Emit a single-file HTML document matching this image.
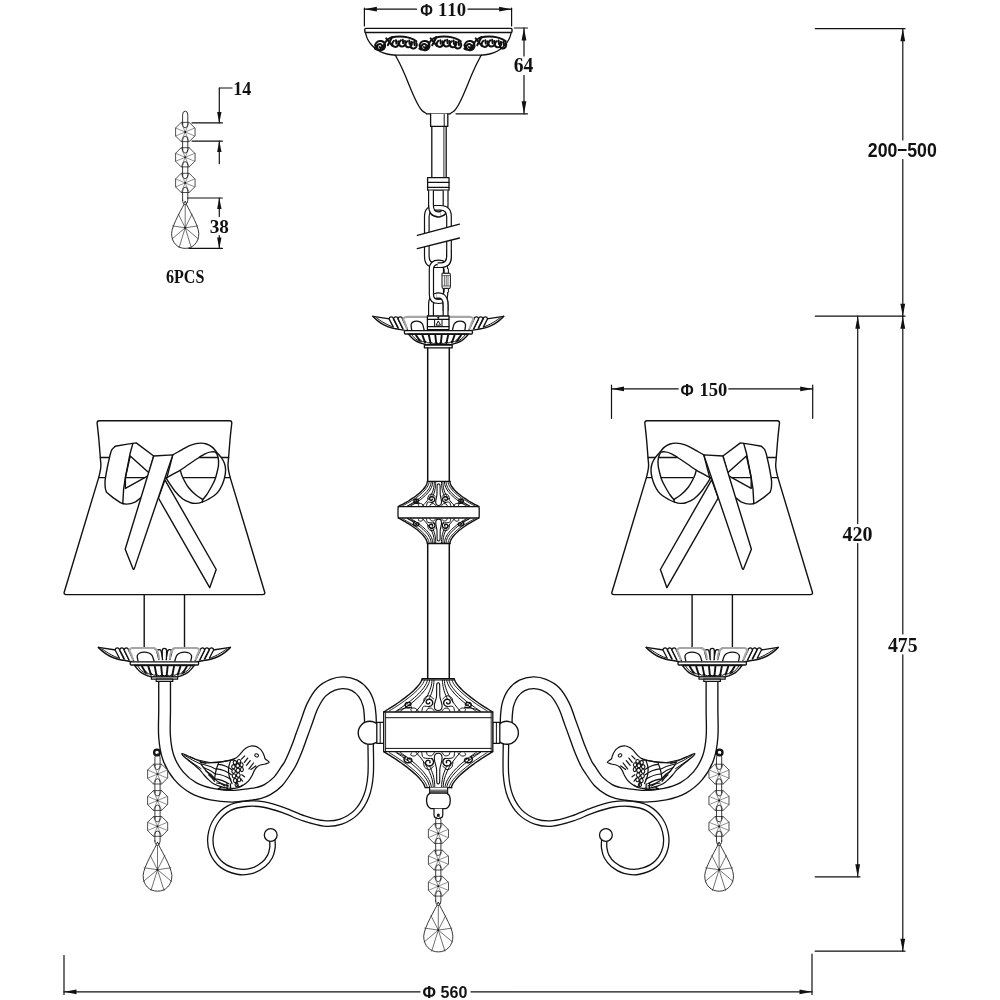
<!DOCTYPE html>
<html lang="en"><head><meta charset="utf-8"><title>Chandelier dimension drawing</title>
<style>
html,body{margin:0;padding:0;background:#fff;}
svg{display:block;will-change:transform;transform:translateZ(0);}
text{font-kerning:none;}
</style></head><body>
<svg width="1000" height="1000" viewBox="0 0 1000 1000" stroke-linecap="round" stroke-linejoin="round">
<rect width="1000" height="1000" fill="#fff"/>
<g id="side">
<path d="M370.6,742C370.6,747.5 371.3,766 370.6,775C369.9,784 368.8,789.8 366.4,796C364,802.2 360.7,807.7 356.5,812C352.3,816.3 346.4,819.7 341,821.6C335.6,823.5 330.2,823.9 324,823.4C317.8,822.9 310.7,820.6 304,818.4C297.3,816.2 290.7,812.7 284,810.4C277.3,808.1 270.3,805.7 264,804.6C257.7,803.5 251.8,803.2 246,803.8C240.2,804.4 233.9,805.5 229,808.2C224.1,810.9 219.5,815.4 216.4,820C213.3,824.6 211.3,830.7 210.6,836C209.9,841.3 210.5,847.2 212.4,852C214.3,856.8 217.8,861.7 222,865C226.2,868.3 232.6,870.6 237.6,871.6C242.6,872.6 247.7,872 252,870.8C256.3,869.6 260.6,866.8 263.6,864.4C266.6,862 268.5,859.1 270,856.4C271.5,853.7 272,850.6 272.4,848C272.8,845.4 272.4,842.2 272.4,841" fill="none" stroke="#111" stroke-width="6.7"/>
<path d="M370.6,742C370.6,747.5 371.3,766 370.6,775C369.9,784 368.8,789.8 366.4,796C364,802.2 360.7,807.7 356.5,812C352.3,816.3 346.4,819.7 341,821.6C335.6,823.5 330.2,823.9 324,823.4C317.8,822.9 310.7,820.6 304,818.4C297.3,816.2 290.7,812.7 284,810.4C277.3,808.1 270.3,805.7 264,804.6C257.7,803.5 251.8,803.2 246,803.8C240.2,804.4 233.9,805.5 229,808.2C224.1,810.9 219.5,815.4 216.4,820C213.3,824.6 211.3,830.7 210.6,836C209.9,841.3 210.5,847.2 212.4,852C214.3,856.8 217.8,861.7 222,865C226.2,868.3 232.6,870.6 237.6,871.6C242.6,872.6 247.7,872 252,870.8C256.3,869.6 260.6,866.8 263.6,864.4C266.6,862 268.5,859.1 270,856.4C271.5,853.7 272,850.6 272.4,848C272.8,845.4 272.4,842.2 272.4,841" fill="none" stroke="#fff" stroke-width="4.1"/>
<circle cx="270.7" cy="835" r="6.4" fill="#fff" stroke="#111" stroke-width="1.3"/>
<path d="M164.6,679C164.6,684.2 164.6,700.3 164.6,710C164.6,719.7 163.9,729 164.6,737C165.2,745 166.2,751.6 168.5,758C170.8,764.4 174.4,770.6 178.6,775.6C182.8,780.6 188.1,784.9 193.6,788C199.1,791.1 205.2,792.8 211.6,794.2C218,795.6 225.6,796.2 232,796.2C238.4,796.2 245.6,794.9 250,794.4C254.4,793.9 255.7,793.8 258.6,793C261.5,792.2 264.2,791.5 267.4,789.6C270.6,787.7 274.9,784.7 278,781.4C281.1,778.1 284.1,773.1 286.2,770C288.3,766.9 288.9,766.5 290.6,763C292.4,759.5 294.8,753.7 296.7,749C298.6,744.3 300.1,739.7 301.8,735C303.5,730.3 305.1,725.9 306.9,721C308.7,716.1 310.2,710.5 312.7,705.6C315.1,700.7 318.2,695.3 321.6,691.8C325,688.3 329.2,686.3 332.8,684.8C336.4,683.3 339.7,682.7 343.3,682.8C346.9,682.9 351.1,683.7 354.5,685.4C357.9,687.1 361,689.9 363.4,693C365.8,696.1 367.5,700.4 368.6,704.2C369.7,708 369.9,712.4 370.2,716C370.5,719.6 370.4,724.3 370.4,726" fill="none" stroke="#111" stroke-width="13.1"/>
<path d="M164.6,679C164.6,684.2 164.6,700.3 164.6,710C164.6,719.7 163.9,729 164.6,737C165.2,745 166.2,751.6 168.5,758C170.8,764.4 174.4,770.6 178.6,775.6C182.8,780.6 188.1,784.9 193.6,788C199.1,791.1 205.2,792.8 211.6,794.2C218,795.6 225.6,796.2 232,796.2C238.4,796.2 245.6,794.9 250,794.4C254.4,793.9 255.7,793.8 258.6,793C261.5,792.2 264.2,791.5 267.4,789.6C270.6,787.7 274.9,784.7 278,781.4C281.1,778.1 284.1,773.1 286.2,770C288.3,766.9 288.9,766.5 290.6,763C292.4,759.5 294.8,753.7 296.7,749C298.6,744.3 300.1,739.7 301.8,735C303.5,730.3 305.1,725.9 306.9,721C308.7,716.1 310.2,710.5 312.7,705.6C315.1,700.7 318.2,695.3 321.6,691.8C325,688.3 329.2,686.3 332.8,684.8C336.4,683.3 339.7,682.7 343.3,682.8C346.9,682.9 351.1,683.7 354.5,685.4C357.9,687.1 361,689.9 363.4,693C365.8,696.1 367.5,700.4 368.6,704.2C369.7,708 369.9,712.4 370.2,716C370.5,719.6 370.4,724.3 370.4,726" fill="none" stroke="#fff" stroke-width="10.4"/>
<circle cx="369.7" cy="732.8" r="11.5" fill="#fff" stroke="#111" stroke-width="1.4"/>
<path d="M376.8,722.4 L383.9,722.4 L383.9,743.4 L376.8,743.4Z" fill="#fff" stroke="#111" stroke-width="1.3"/>
<line x1="380.2" y1="722.4" x2="380.2" y2="743.4" stroke="#111" stroke-width="1"/>
<path d="M144.2,594.8 L144.2,648 M184.5,594.8 L184.5,648" fill="none" stroke="#111" stroke-width="1.4"/>
<path d="M99.2,420.8 L229.7,420.8 Q231.8,420.8 231.8,423 L231.8,423C231.5,425.8 230.5,434.2 230,440C229.5,445.8 228.9,453.3 228.6,457.5C228.3,461.7 228,462.9 228,465.2C228,467.5 228.3,469.1 228.7,471.2C229.1,473.3 229.9,476.5 230.2,477.6 L264.7,592.2 Q265.3,594.6 262.5,594.6 L66.4,594.6 Q63.6,594.6 64.2,592.2 L98.7,477.6 L98.7,477.6C99,476.5 99.8,473.3 100.2,471.2C100.6,469.1 100.9,467.5 100.9,465.2C100.9,462.9 100.6,461.7 100.3,457.5C100,453.3 99.4,445.8 98.9,440C98.4,434.2 97.4,425.8 97.1,423 Q97.1,420.8 99.2,420.8Z" fill="#fff" stroke="#111" stroke-width="1.4"/>
<path d="M100.3,457.5 L228.6,457.5 M98.7,477.6 L230.2,477.6" fill="none" stroke="#111" stroke-width="1.3"/>
<path d="M164.9,479.8L216.2,569.5L209.7,587.7L158.4,498Z" fill="#fff" stroke="#111" stroke-width="1.4"/>
<path d="M172.8,454.9C174.4,454 179.4,451 182.5,449.3C185.6,447.6 188.5,445.8 191.5,444.8C194.5,443.8 198,443.2 200.5,443.1C203,443 204.5,443.3 206.5,444C208.5,444.7 210.8,446 212.5,447.4C214.2,448.8 215.5,450.9 217,452.6C218.5,454.4 220.2,456.1 221.5,457.9C222.8,459.7 223.8,461.4 224.5,463.5C225.2,465.6 225.6,467.9 225.6,470.3C225.6,472.7 225.1,475.4 224.5,477.8C223.9,480.2 223.3,482.2 222.3,484.5C221.3,486.8 219.9,489.4 218.5,491.3C217.1,493.2 215.8,494.4 214,495.8C212.2,497.2 210,498.4 208,499.5C206,500.6 204,501.5 202,502.1C200,502.8 198,503.3 196,503.4C194,503.5 192.2,503.3 190,502.5C187.8,501.7 185,500.7 182.5,498.8C180,496.9 177.1,493.8 175,491.3C172.9,488.8 171.2,485.9 169.8,483.8C168.4,481.7 167.1,479.7 166.6,478.9Z" fill="#fff" stroke="#111" stroke-width="1.4"/>
<path d="M180.3,470.3C181.9,469.2 186.9,465.6 190,463.5C193.1,461.4 196.5,459.1 199,457.5C201.5,455.9 203,454.7 205,453.8C207,452.9 209.2,452.1 211,451.9C212.8,451.6 214.3,451.4 215.5,452.3C216.7,453.2 217.6,455.4 218.1,457.5C218.6,459.6 218.7,462.5 218.5,465C218.3,467.5 217.6,470 217,472.5C216.4,475 215.8,477.5 214.8,480C213.8,482.5 212.4,485 211,487.5C209.6,490 207.9,493 206.5,495C205.1,497 203.4,498.8 202.8,499.5L202.8,499.5C201.7,498.8 198.4,497 196,495C193.6,493 190.8,490.5 188.5,487.5C186.2,484.5 183.9,479.9 182.5,477C181.1,474.1 180.7,471.4 180.3,470.3Z" fill="#fff" stroke="#111" stroke-width="1.4"/>
<path d="M199.4,457.5 L217.6,457.5 M183.6,477.6 L215.6,477.6" fill="none" stroke="#111" stroke-width="1.3"/>
<path d="M165.3,478.5C166.5,477.8 170.1,475.8 172.6,474.4C175.1,473 179,471 180.3,470.3" fill="none" stroke="#111" stroke-width="1.4"/>
<path d="M202.8,499.5 L202.2,502" fill="none" stroke="#111" stroke-width="1.4"/>
<path d="M136.2,442.9L126,444.4L115.2,446.3L115.2,446.3C114.7,446.9 112.7,448.4 111.9,449.6C111.1,450.9 110.8,452.5 110.4,453.8C110,455.1 110,455.3 109.5,457.5C109,459.7 108.1,463.6 107.4,467C106.7,470.4 105.9,475.1 105.5,477.6C105.1,480.1 105,480.3 105,482C105,483.7 105,486.3 105.3,488C105.5,489.7 106.3,491.5 106.5,492.2 L113,497.6 L120.4,502.6 Q126.5,506 135.6,501.9 L142.1,496.7 L148.6,474.8 L153.7,456Z" fill="#fff" stroke="#111" stroke-width="1.4"/>
<path d="M130.2,455.9 L148.9,472.7 L148.4,475.6 L125.4,488.4 L125.4,477.6Z" fill="#fff" stroke="#111" stroke-width="1.4"/>
<path d="M125.6,477.6 L144.6,477.6" fill="none" stroke="#111" stroke-width="1.3"/>
<path d="M132.9,443.4 L130,453.8 L125.4,477.6 L123.6,489.2 L122.8,503.6" fill="none" stroke="#111" stroke-width="1.4"/>
<path d="M153.7,456 L172.8,454.9 L134.3,568.6 Q133.7,570.2 132.9,568.6 L125.2,549.3Z" fill="#fff" stroke="#111" stroke-width="1.4"/>
<path d="M98.4,647.4C99.3,648.2 101.7,650.7 103.6,652.2C105.5,653.7 107.7,655.1 110,656.2C112.3,657.3 114.9,658.3 117.2,659C119.5,659.7 121.2,659.8 123.6,660.2C126,660.6 130.3,661.4 131.6,661.6 L197.2,661.6 L197.2,661.6C198.5,661.4 202.8,660.6 205.2,660.2C207.6,659.8 209.3,659.7 211.6,659C213.9,658.3 216.5,657.3 218.8,656.2C221.1,655.1 223.3,653.7 225.2,652.2C227.1,650.7 229.5,648.2 230.4,647.4Z" fill="#fff" stroke="none" stroke-width="0"/>
<path d="M98.4,647.4C99.3,648.2 101.7,650.7 103.6,652.2C105.5,653.7 107.7,655.1 110,656.2C112.3,657.3 114.9,658.3 117.2,659C119.5,659.7 121.2,659.8 123.6,660.2C126,660.6 130.3,661.4 131.6,661.6" fill="none" stroke="#111" stroke-width="1.5"/>
<path d="M102,648.9C103.1,649.6 106.3,651.9 108.4,653.2C110.5,654.4 112.6,655.6 114.4,656.4C116.2,657.2 118.6,657.9 119.4,658.2" fill="none" stroke="#111" stroke-width="1"/>
<path d="M98.4,647.4 L115.8,650" fill="none" stroke="#111" stroke-width="1.3"/>
<path d="M119.3,658 L115.3,650.2 C114.9,647.2 119.5,647.2 119.5,650 L123.9,658.9" fill="#fff" stroke="#111" stroke-width="1.3"/>
<path d="M124.3,658.8 L119.9,650.2 C119.5,647.2 124.1,647.2 124.1,650 L128.9,659.7" fill="#fff" stroke="#111" stroke-width="1.3"/>
<path d="M129.1,660 L124.3,650.2 C123.9,647.2 128.5,647.2 128.5,650 L133.7,660.9" fill="#fff" stroke="#111" stroke-width="1.3"/>
<path d="M133,659.6C132.7,658.7 131.8,656 131.2,654.4C130.6,652.8 129.5,651.2 129.4,650.2C129.3,649.2 130,649 130.6,648.6C131.2,648.2 132.6,648.1 133,648 L154,648 L154,648C154.5,648.4 156.4,649.5 157.2,650.6C158,651.7 158.3,653.1 158.6,654.4C158.9,655.7 158.9,657.6 159,658.2" fill="none" stroke="#a6a6a6" stroke-width="2.1"/>
<path d="M138,661C137.9,660.1 136.9,657.1 137.2,655.8C137.5,654.5 138.6,653.6 139.8,653C141,652.4 142.9,652.2 144.4,652.2C145.9,652.2 147.5,652.5 148.8,653C150.1,653.5 151.1,654.1 152,655.4C152.9,656.7 153.7,660.1 154,661" fill="none" stroke="#111" stroke-width="1.3"/>
<path d="M230.4,647.4C229.5,648.2 227.1,650.7 225.2,652.2C223.3,653.7 221.1,655.1 218.8,656.2C216.5,657.3 213.9,658.3 211.6,659C209.3,659.7 207.6,659.8 205.2,660.2C202.8,660.6 198.5,661.4 197.2,661.6" fill="none" stroke="#111" stroke-width="1.5"/>
<path d="M226.8,648.9C225.7,649.6 222.5,651.9 220.4,653.2C218.3,654.4 216.2,655.6 214.4,656.4C212.6,657.2 210.2,657.9 209.4,658.2" fill="none" stroke="#111" stroke-width="1"/>
<path d="M230.4,647.4 L213,650" fill="none" stroke="#111" stroke-width="1.3"/>
<path d="M209.5,658 L213.5,650.2 C213.9,647.2 209.3,647.2 209.3,650 L204.9,658.9" fill="#fff" stroke="#111" stroke-width="1.3"/>
<path d="M204.5,658.8 L208.9,650.2 C209.3,647.2 204.7,647.2 204.7,650 L199.9,659.7" fill="#fff" stroke="#111" stroke-width="1.3"/>
<path d="M199.7,660 L204.5,650.2 C204.9,647.2 200.3,647.2 200.3,650 L195.1,660.9" fill="#fff" stroke="#111" stroke-width="1.3"/>
<path d="M195.8,659.6C196.1,658.7 197,656 197.6,654.4C198.2,652.8 199.3,651.2 199.4,650.2C199.5,649.2 198.8,649 198.2,648.6C197.6,648.2 196.2,648.1 195.8,648 L174.8,648 L174.8,648C174.3,648.4 172.4,649.5 171.6,650.6C170.8,651.7 170.5,653.1 170.2,654.4C169.9,655.7 169.9,657.6 169.8,658.2" fill="none" stroke="#a6a6a6" stroke-width="2.1"/>
<path d="M190.8,661C190.9,660.1 191.9,657.1 191.6,655.8C191.3,654.5 190.2,653.6 189,653C187.8,652.4 185.9,652.2 184.4,652.2C182.9,652.2 181.3,652.5 180,653C178.7,653.5 177.7,654.1 176.8,655.4C175.9,656.7 175.1,660.1 174.8,661" fill="none" stroke="#111" stroke-width="1.3"/>
<path d="M158.9,659.6 L157,652.4 C157,648.8 161.4,648.8 161.4,652.4 L162.9,659.6" fill="#fff" stroke="#111" stroke-width="1.3"/>
<path d="M165.9,659.6 L167.4,652.4 C167.4,648.8 171.8,648.8 171.8,652.4 L169.9,659.6" fill="#fff" stroke="#111" stroke-width="1.3"/>
<path d="M162.4,659.6 L162.2,651 C162.2,647.4 166.6,647.4 166.6,651 L166.4,659.6" fill="#fff" stroke="#111" stroke-width="1.3"/>
<path d="M154,648C154.5,648.4 156.1,649.3 156.8,650.4C157.5,651.5 158,653 158.4,654.4C158.8,655.8 158.9,657.9 159,658.6" fill="none" stroke="#a6a6a6" stroke-width="2"/>
<path d="M174.8,648C174.3,648.4 172.7,649.3 172,650.4C171.3,651.5 170.8,653 170.4,654.4C170,655.8 169.9,657.9 169.8,658.6" fill="none" stroke="#a6a6a6" stroke-width="2"/>
<path d="M131.2,661.8 L197.6,661.8 Q198.6,661.8 198.6,662.8 L198.6,664 Q198.6,665 197.6,665 L131.2,665 Q130.2,665 130.2,664 L130.2,662.8 Q130.2,661.8 131.2,661.8Z" fill="#fff" stroke="#111" stroke-width="1.3"/>
<path d="M134.6,665.5C135,666 136.1,667.6 137.2,668.8C138.3,670 139.7,671.6 141.2,672.6C142.7,673.6 144.3,674.4 146,675.1C147.7,675.8 150.7,676.7 151.6,677 L177.2,677 L177.2,677C178.1,676.7 181.1,675.8 182.8,675.1C184.5,674.4 186.1,673.6 187.6,672.6C189.1,671.6 190.5,670 191.6,668.8C192.7,667.6 193.8,666 194.2,665.5Z" fill="#fff" stroke="#111" stroke-width="1.4"/>
<path d="M138,666.4C138.4,666.9 139.3,668.4 140.2,669.4C141.1,670.4 142.4,671.4 143.6,672.2C144.8,673 146.6,673.7 147.2,674" fill="none" stroke="#111" stroke-width="1"/>
<path d="M190.8,666.4C190.4,666.9 189.5,668.4 188.6,669.4C187.7,670.4 186.4,671.4 185.2,672.2C184,673 182.2,673.7 181.6,674" fill="none" stroke="#111" stroke-width="1"/>
<path d="M161.2,666.6 L162.2,676.4 M154.8,666.6 L156.6,676 M148.4,666.6 L151,674.8 M142,666.6 L145.6,672.4 M167.6,666.6 L166.6,676.4 M174,666.6 L172.2,676 M180.4,666.6 L177.8,674.8 M186.8,666.6 L183.2,672.4 " fill="none" stroke="#111" stroke-width="1.9"/>
<path d="M166.6,675.2 Q164.4,677 162.2,675.2 M162.2,675.2 Q159.4,677 156.6,674.8 M156.6,674.8 Q153.8,676.6 151,673.6 M151,673.6 Q148.3,675.4 145.6,671.2 M162.2,675.2 Q164.4,677 166.6,675.2 M166.6,675.2 Q169.4,677 172.2,674.8 M172.2,674.8 Q175,676.6 177.8,673.6 M177.8,673.6 Q180.5,675.4 183.2,671.2 " fill="none" stroke="#111" stroke-width="1"/>
<path d="M151.4,677 L177.6,677 L177.6,679.2 L151.4,679.2Z" fill="#fff" stroke="#111" stroke-width="1.2"/>
<path d="M156.2,679.2 L172.8,679.2 L172.8,681.4 L156.2,681.4Z" fill="#fff" stroke="#111" stroke-width="1.2"/>
<path d="M182,753.5C182.8,753.5 185.8,755.1 188,756C190.2,756.9 192.5,758.1 195,759C197.5,759.9 200.5,760.6 203,761.2C205.5,761.8 207.5,762.3 210,762.5C212.5,762.7 215.5,762.6 218,762.4C220.5,762.2 222.8,761.6 225,761.2C227.2,760.8 229.2,760.3 231,759.8C232.8,759.3 234.7,758.7 236,758C237.3,757.3 238.1,756.3 239,755.4C239.9,754.5 240.6,753.6 241.4,752.6C242.2,751.6 243,750.5 244,749.6C245,748.7 246.2,747.8 247.4,747.2C248.6,746.6 249.8,746.2 251,746C252.2,745.8 253.4,746 254.6,746.2C255.8,746.4 257,746.8 258,747.4C259,748 260,748.7 260.8,749.6C261.6,750.5 262.4,751.9 263,753C263.6,754.1 264,755.4 264.4,756.4C264.8,757.4 264.4,757.8 265.2,758.8C266,759.8 269.2,761.3 269.2,762.2C269.2,763.1 266.9,763.5 265.4,764C263.9,764.5 261.8,764.5 260.4,765C259,765.5 258,766.1 257,767C256,767.9 255.2,769.1 254.4,770.4C253.6,771.7 253.2,773.5 252.4,775C251.6,776.5 250.7,778.2 249.6,779.6C248.5,781 247.2,782.4 245.6,783.6C244,784.8 241.9,786.2 240,787C238.1,787.8 236.2,788.2 234,788.4C231.8,788.6 229.3,788.3 227,788C224.7,787.7 222.2,787.1 220,786.4C217.8,785.7 215.5,784.9 213.6,783.8C211.7,782.7 210,781.1 208.4,779.6C206.8,778.1 205.5,776.7 204,775C202.5,773.3 201.3,771.3 199.6,769.6C197.9,767.9 195.9,766.4 194,764.8C192.1,763.2 189.8,761.5 188,760C186.2,758.5 184.4,757.1 183.4,756C182.4,754.9 181.2,753.5 182,753.5Z" fill="#fff" stroke="#111" stroke-width="1.2"/>
<ellipse cx="256.6" cy="755.4" rx="1.9" ry="1.5" fill="#fff" stroke="#111" stroke-width="1.0" transform="rotate(25 256.6 755.4)"/>
<path d="M244.7,755.9 L241.5,759.1 M247.7,758.1 L244.4,762.4 M250.3,760.7 L246.4,765.3 M253.5,763 L249,768.9 M255.8,765.9 L250.9,769.5" fill="none" stroke="#111" stroke-width="1.2"/>
<path d="M241.8,774.7 L244.6,776.8 M240.6,778.6 L242.6,781.2" fill="none" stroke="#111" stroke-width="1.1"/>
<path d="M200.2,762.6C201.7,762.6 206.1,762.9 209,762.8C211.9,762.7 215,762.5 217.8,762.2C220.6,761.9 223.3,761.6 226,761.2C228.7,760.8 232.7,760 234,759.8" fill="none" stroke="#111" stroke-width="1.2"/>
<path d="M218.4,763.4C218.1,764.3 216.9,767.1 216.4,769C215.9,770.9 215.5,772.8 215.2,774.6C214.9,776.4 214.6,778.8 214.5,779.6" fill="none" stroke="#111" stroke-width="1.2"/>
<path d="M218.4,764.3 Q225.6,765 231.6,769.5 M217.1,768.9 Q224.6,769.8 231.4,774.7 M215.8,774 Q223.6,774.6 230.8,779.3 M214.8,778.8 Q221.8,779.4 228.8,783.8 M216.6,783 Q221,783.2 225,786" fill="none" stroke="#111" stroke-width="1.2"/>
<path d="M201,763.8 Q209,765.6 216.6,769.4 M203.4,767.4 Q210,769.6 215.6,774.2 M205.6,770.8 Q210.6,773.4 214.8,778.6 M208.6,774.8 Q212,777.6 214.6,781.4" fill="none" stroke="#111" stroke-width="1.1"/>
<path d="M201.6,765C202.5,766.1 205,769.6 207,771.8C209,774 211.3,776.5 213.6,778.4C215.9,780.3 218.5,782.1 221,783.4C223.5,784.7 227.3,785.6 228.6,786" fill="none" stroke="#111" stroke-width="1.2"/>
<path d="M233.2,762.4 c0.3,-2.7 3.1,-2.7 3.4,0 c-0.3,2.7 -3.1,2.7 -3.4,0z M237.2,761.3 c0.4,-2.5 3.2,-2.5 3.6,0 c-0.4,2.5 -3.2,2.5 -3.6,0z M231.6,766.7 c0.4,-2.8 3.2,-2.8 3.6,0 c-0.4,2.8 -3.2,2.8 -3.6,0z M235.8,765.7 c0.4,-2.8 3.4,-2.8 3.8,0 c-0.4,2.8 -3.4,2.8 -3.8,0z M240,764.8 c0.3,-2.7 2.9,-2.7 3.2,0 c-0.3,2.7 -2.9,2.7 -3.2,0z M231.8,771.3 c0.4,-2.8 3.2,-2.8 3.6,0 c-0.4,2.8 -3.2,2.8 -3.6,0z M236,770.4 c0.4,-3 3.6,-3 4,0 c-0.4,3 -3.6,3 -4,0z M240.4,769.5 c0.3,-2.8 2.7,-2.8 3,0 c-0.3,2.8 -2.7,2.8 -3,0z M232.2,775.9 c0.4,-2.8 3.2,-2.8 3.6,0 c-0.4,2.8 -3.2,2.8 -3.6,0z M236.4,775.1 c0.4,-2.8 3.4,-2.8 3.8,0 c-0.4,2.8 -3.4,2.8 -3.8,0z M233.4,780.5 c0.3,-2.8 3.1,-2.8 3.4,0 c-0.3,2.8 -3.1,2.8 -3.4,0z M237.4,779.7 c0.3,-2.8 3.1,-2.8 3.4,0 c-0.3,2.8 -3.1,2.8 -3.4,0z M235,784.7 c0.3,-2.5 2.9,-2.5 3.2,0 c-0.3,2.5 -2.9,2.5 -3.2,0z " fill="none" stroke="#111" stroke-width="1.1"/>
<path d="M230.4,761C230.1,762.2 228.8,765.5 228.6,768C228.4,770.5 228.6,773.4 229.2,776C229.8,778.6 231.5,782.3 232,783.6" fill="none" stroke="#111" stroke-width="1.2"/>
<path d="M237.4,781.6 q-2,3.6 1.4,4.8 q2.4,0.4 3.6,-1.2" fill="none" stroke="#111" stroke-width="1.2"/>
<path d="M184.6,755.4 Q192,760.2 201.6,764.6 M186.6,758.6 Q194,764 201,768.6 M190,757 Q197,760.6 206,763.6" fill="none" stroke="#111" stroke-width="1"/>
<path d="M221.6,786.8 l-3.6,2.2 l13,0.6 M227,783.4 l0.2,5.6 M230.4,784 l0.2,5.2 M223.6,789.8 l9,0.4" fill="none" stroke="#111" stroke-width="1.3"/>
<circle cx="157" cy="752.5" r="2.9" fill="#fff" stroke="#111" stroke-width="2.3"/>
<path d="M167.4,778.2L161.6,784L153.4,784L147.6,778.2L147.6,770L153.4,764.2L161.6,764.2L167.4,770Z" fill="#fff" stroke="#222" stroke-width="0.8"/>
<path d="M167.4,778.2 L147.6,770 M161.6,784 L153.4,764.2 M153.4,784 L161.6,764.2 M147.6,778.2 L167.4,770 " fill="none" stroke="#444" stroke-width="0.6"/>
<circle cx="157.5" cy="774.1" r="0.9" fill="#111"/>
<path d="M167.4,804.6L161.6,810.4L153.4,810.4L147.6,804.6L147.6,796.4L153.4,790.6L161.6,790.6L167.4,796.4Z" fill="#fff" stroke="#222" stroke-width="0.8"/>
<path d="M167.4,804.6 L147.6,796.4 M161.6,810.4 L153.4,790.6 M153.4,810.4 L161.6,790.6 M147.6,804.6 L167.4,796.4 " fill="none" stroke="#444" stroke-width="0.6"/>
<circle cx="157.5" cy="800.5" r="0.9" fill="#111"/>
<path d="M167.4,830.5L161.6,836.3L153.4,836.3L147.6,830.5L147.6,822.3L153.4,816.5L161.6,816.5L167.4,822.3Z" fill="#fff" stroke="#222" stroke-width="0.8"/>
<path d="M167.4,830.5 L147.6,822.3 M161.6,836.3 L153.4,816.5 M153.4,836.3 L161.6,816.5 M147.6,830.5 L167.4,822.3 " fill="none" stroke="#444" stroke-width="0.6"/>
<circle cx="157.5" cy="826.4" r="0.9" fill="#111"/>
<path d="M157.5,842.4 C159.7,848.3 171.3,865.8 171.9,875.6 C171.9,885.3 165.4,891.2 157.5,891.2 C149.6,891.2 143.1,885.3 143.1,875.6 C143.7,865.8 155.3,848.3 157.5,842.4Z" fill="#fff" stroke="#222" stroke-width="0.9"/>
<path d="M157.5,869.7 L157.5,843.4 M157.5,869.7 L164.7,855.6 M157.5,869.7 L170.9,867.8 M157.5,869.7 L171.5,881.4 M157.5,869.7 L164,890.4 M157.5,869.7 L151,890.4 M157.5,869.7 L143.5,881.4 M157.5,869.7 L144.1,867.8 M157.5,869.7 L150.3,855.6 " fill="none" stroke="#333" stroke-width="0.7"/>
<circle cx="157.5" cy="869.7" r="0.9" fill="#111"/>
<path d="M154.9,765.6 L154.9,757.8 A2.6,3.9 0 0 1 160.1,757.8 L160.1,765.6 A2.6,3.9 0 0 1 154.9,765.6Z" fill="none" stroke="#222" stroke-width="0.9"/>
<path d="M154.9,792 L154.9,782.6 A2.6,3.9 0 0 1 160.1,782.6 L160.1,792 A2.6,3.9 0 0 1 154.9,792Z" fill="none" stroke="#222" stroke-width="0.9"/>
<path d="M154.9,817.9 L154.9,809 A2.6,3.9 0 0 1 160.1,809 L160.1,817.9 A2.6,3.9 0 0 1 154.9,817.9Z" fill="none" stroke="#222" stroke-width="0.9"/>
<path d="M154.9,841 L154.9,834.9 A2.6,3.9 0 0 1 160.1,834.9 L160.1,841 A2.6,3.9 0 0 1 154.9,841Z" fill="none" stroke="#222" stroke-width="0.9"/>
<circle cx="157.5" cy="844.2" r="1.3" fill="#fff" stroke="#222" stroke-width="0.9"/>
</g>
<use href="#side" transform="translate(876.6,0) scale(-1,1)"/>
<line x1="364.4" y1="8" x2="364.4" y2="26" stroke="#111" stroke-width="1.2"/>
<line x1="511.6" y1="8" x2="511.6" y2="26" stroke="#111" stroke-width="1.2"/>
<line x1="364.4" y1="9.2" x2="416.5" y2="9.2" stroke="#111" stroke-width="1.2"/>
<line x1="468" y1="9.2" x2="511.6" y2="9.2" stroke="#111" stroke-width="1.2"/>
<path d="M364.4,9.2L376.9,6.8L376.9,11.6Z" fill="#111" stroke="none"/>
<path d="M511.6,9.2L499.1,6.8L499.1,11.6Z" fill="#111" stroke="none"/>
<text x="420.2" y="15.6" font-family='"Liberation Sans", sans-serif' font-size="16.8" font-weight="bold" text-anchor="start" fill="#111" textLength="12.6" lengthAdjust="spacingAndGlyphs">&#934;</text>
<text x="438" y="15.6" font-family='"Liberation Serif", serif' font-size="19.4" font-weight="bold" text-anchor="start" fill="#111" textLength="28" lengthAdjust="spacingAndGlyphs">110</text>
<line x1="514.4" y1="28" x2="527.5" y2="28" stroke="#111" stroke-width="1.2"/>
<line x1="456" y1="113.8" x2="527.5" y2="113.8" stroke="#111" stroke-width="1.2"/>
<line x1="524" y1="28" x2="524" y2="56" stroke="#111" stroke-width="1.2"/>
<line x1="524" y1="75.5" x2="524" y2="113.8" stroke="#111" stroke-width="1.2"/>
<path d="M524,28L521.6,40.5L526.4,40.5Z" fill="#111" stroke="none"/>
<path d="M524,113.8L521.6,101.3L526.4,101.3Z" fill="#111" stroke="none"/>
<text x="523.6" y="72.4" font-family='"Liberation Serif", serif' font-size="20" font-weight="bold" text-anchor="middle" fill="#111" textLength="19.5" lengthAdjust="spacingAndGlyphs">64</text>
<line x1="815.3" y1="28.7" x2="905" y2="28.7" stroke="#111" stroke-width="1.2"/>
<line x1="815.3" y1="316.2" x2="905" y2="316.2" stroke="#111" stroke-width="1.2"/>
<line x1="902.8" y1="28.7" x2="902.8" y2="140" stroke="#111" stroke-width="1.2"/>
<line x1="902.8" y1="159.5" x2="902.8" y2="316.2" stroke="#111" stroke-width="1.2"/>
<path d="M902.8,28.7L900.4,41.2L905.2,41.2Z" fill="#111" stroke="none"/>
<path d="M902.8,316.2L900.4,303.7L905.2,303.7Z" fill="#111" stroke="none"/>
<text x="902.3" y="157" font-family='"Liberation Sans", sans-serif' font-size="20.2" font-weight="bold" text-anchor="middle" fill="#111" textLength="69" lengthAdjust="spacingAndGlyphs">200<tspan dy="-2.3">&#8211;</tspan><tspan dy="2.3">500</tspan></text>
<line x1="857.7" y1="316.2" x2="857.7" y2="523.6" stroke="#111" stroke-width="1.2"/>
<line x1="857.7" y1="543.6" x2="857.7" y2="876.8" stroke="#111" stroke-width="1.2"/>
<path d="M857.7,316.2L855.3,328.7L860.1,328.7Z" fill="#111" stroke="none"/>
<path d="M857.7,876.8L855.3,864.3L860.1,864.3Z" fill="#111" stroke="none"/>
<line x1="815.2" y1="876.8" x2="860" y2="876.8" stroke="#111" stroke-width="1.2"/>
<text x="857.5" y="541.2" font-family='"Liberation Serif", serif' font-size="21.2" font-weight="bold" text-anchor="middle" fill="#111" textLength="30" lengthAdjust="spacingAndGlyphs">420</text>
<line x1="902.8" y1="316.2" x2="902.8" y2="634" stroke="#111" stroke-width="1.2"/>
<line x1="902.8" y1="654.8" x2="902.8" y2="951.2" stroke="#111" stroke-width="1.2"/>
<path d="M902.8,316.2L900.4,328.7L905.2,328.7Z" fill="#111" stroke="none"/>
<path d="M902.8,951.2L900.4,938.7L905.2,938.7Z" fill="#111" stroke="none"/>
<line x1="815.2" y1="951.2" x2="905" y2="951.2" stroke="#111" stroke-width="1.2"/>
<text x="902.8" y="652.4" font-family='"Liberation Serif", serif' font-size="21.2" font-weight="bold" text-anchor="middle" fill="#111" textLength="29.6" lengthAdjust="spacingAndGlyphs">475</text>
<line x1="611.5" y1="385" x2="611.5" y2="418.3" stroke="#111" stroke-width="1.2"/>
<line x1="812.7" y1="385" x2="812.7" y2="418.3" stroke="#111" stroke-width="1.2"/>
<line x1="611.5" y1="388.9" x2="678.2" y2="388.9" stroke="#111" stroke-width="1.2"/>
<line x1="728.8" y1="388.9" x2="812.7" y2="388.9" stroke="#111" stroke-width="1.2"/>
<path d="M611.5,388.9L624,386.5L624,391.3Z" fill="#111" stroke="none"/>
<path d="M812.7,388.9L800.2,386.5L800.2,391.3Z" fill="#111" stroke="none"/>
<text x="680.6" y="395.6" font-family='"Liberation Sans", sans-serif' font-size="16.8" font-weight="bold" text-anchor="start" fill="#111" textLength="13.2" lengthAdjust="spacingAndGlyphs">&#934;</text>
<text x="699.4" y="395.8" font-family='"Liberation Serif", serif' font-size="19.6" font-weight="bold" text-anchor="start" fill="#111" textLength="27.8" lengthAdjust="spacingAndGlyphs">150</text>
<line x1="64" y1="955.5" x2="64" y2="994.5" stroke="#111" stroke-width="1.2"/>
<line x1="812" y1="954" x2="812" y2="994.5" stroke="#111" stroke-width="1.2"/>
<line x1="64" y1="991.8" x2="420" y2="991.8" stroke="#111" stroke-width="1.2"/>
<line x1="471" y1="991.8" x2="812" y2="991.8" stroke="#111" stroke-width="1.2"/>
<path d="M64,991.8L76.5,989.4L76.5,994.2Z" fill="#111" stroke="none"/>
<path d="M812,991.8L799.5,989.4L799.5,994.2Z" fill="#111" stroke="none"/>
<text x="422.6" y="998" font-family='"Liberation Sans", sans-serif' font-size="16.6" font-weight="bold" text-anchor="start" fill="#111" textLength="13.4" lengthAdjust="spacingAndGlyphs">&#934;</text>
<text x="440.6" y="998" font-family='"Liberation Sans", sans-serif' font-size="16.8" font-weight="bold" text-anchor="start" fill="#111" textLength="26.8" lengthAdjust="spacingAndGlyphs">560</text>
<line x1="219.3" y1="88" x2="232" y2="88" stroke="#111" stroke-width="1.2"/>
<line x1="219.3" y1="88" x2="219.3" y2="122.9" stroke="#111" stroke-width="1.2"/>
<path d="M219.3,122.9L217.1,111.9L221.5,111.9Z" fill="#111" stroke="none"/>
<line x1="192" y1="122.9" x2="222.4" y2="122.9" stroke="#111" stroke-width="1.2"/>
<line x1="192" y1="141.1" x2="222.4" y2="141.1" stroke="#111" stroke-width="1.2"/>
<line x1="219.3" y1="141.1" x2="219.3" y2="163.7" stroke="#111" stroke-width="1.2"/>
<path d="M219.3,141.1L217.1,152.1L221.5,152.1Z" fill="#111" stroke="none"/>
<text x="242.2" y="95.3" font-family='"Liberation Serif", serif' font-size="19.5" font-weight="bold" text-anchor="middle" fill="#111" textLength="18" lengthAdjust="spacingAndGlyphs">14</text>
<line x1="187.6" y1="198" x2="222.4" y2="198" stroke="#111" stroke-width="1.2"/>
<line x1="188.8" y1="248.4" x2="222.4" y2="248.4" stroke="#111" stroke-width="1.2"/>
<line x1="219.3" y1="198" x2="219.3" y2="216.5" stroke="#111" stroke-width="1.2"/>
<line x1="219.3" y1="235.5" x2="219.3" y2="248.4" stroke="#111" stroke-width="1.2"/>
<path d="M219.3,198L217.1,209L221.5,209Z" fill="#111" stroke="none"/>
<path d="M219.3,248.4L217.1,237.4L221.5,237.4Z" fill="#111" stroke="none"/>
<text x="219.3" y="232.8" font-family='"Liberation Serif", serif' font-size="19" font-weight="bold" text-anchor="middle" fill="#111" textLength="19.2" lengthAdjust="spacingAndGlyphs">38</text>
<text x="185.2" y="283.2" font-family='"Liberation Serif", serif' font-size="18" font-weight="bold" text-anchor="middle" fill="#111" textLength="38.4" lengthAdjust="spacingAndGlyphs">6PCS</text>
<path d="M365.8,28.4 L511,28.4 Q512,28.4 512,29.4 L512,31.5 Q512,32.5 511,32.5 L365.8,32.5 Q364.8,32.5 364.8,31.5 L364.8,29.4 Q364.8,28.4 365.8,28.4Z" fill="#fff" stroke="#111" stroke-width="1.4"/>
<path d="M365.4,32.6C365.8,33.7 366.4,36.9 367.5,39C368.6,41.1 370.1,43.5 372,45.5C373.9,47.5 376.5,49.6 379,51C381.5,52.4 384.3,53.3 387,54C389.7,54.7 393.7,55 395,55.2" fill="none" stroke="#111" stroke-width="1.3"/>
<path d="M481.6,55.2C482.9,55 486.9,54.7 489.6,54C492.3,53.3 495.1,52.4 497.6,51C500.1,49.6 502.7,47.5 504.6,45.5C506.5,43.5 508,41.1 509.1,39C510.2,36.9 510.9,33.7 511.2,32.6" fill="none" stroke="#111" stroke-width="1.3"/>
<line x1="395" y1="55.2" x2="481.6" y2="55.2" stroke="#111" stroke-width="1.3"/>
<path d="M395.5,55.4C396.2,56.8 398.4,60.7 400,64C401.6,67.3 403.4,71.3 405,75C406.6,78.7 408,82.4 409.5,86C411,89.6 412.5,93.2 414,96.5C415.5,99.8 417.2,103.2 418.5,105.5C419.8,107.8 420.7,109.2 422,110.5C423.3,111.8 425.8,113.1 426.5,113.6" fill="none" stroke="#111" stroke-width="1.3"/>
<path d="M450.1,113.6C450.9,113.1 453.3,111.8 454.6,110.5C455.9,109.2 456.8,107.8 458.1,105.5C459.4,103.2 461.1,99.8 462.6,96.5C464.1,93.2 465.6,89.6 467.1,86C468.6,82.4 470,78.7 471.6,75C473.2,71.3 475,67.3 476.6,64C478.2,60.7 480.4,56.8 481.1,55.4" fill="none" stroke="#111" stroke-width="1.3"/>
<line x1="426.5" y1="113.8" x2="450.1" y2="113.8" stroke="#111" stroke-width="1.3"/>
<path d="M379,49.8 c-3.4,-0.6 -5,-4.6 -2.6,-7.2 c2.6,-2.8 7.6,-1.8 8.6,1.8 c0.9,3.4 -1.8,6.4 -5.2,5.8 c-3,-0.6 -3.8,-4 -1.8,-5.6 c1.8,-1.4 4.2,-0.4 4,1.6 c-0.2,1.4 -1.8,1.8 -2.6,0.8 M375,48.6 c2.6,2 6.8,1.6 8.6,-1.2 M383.2,46.8 c1.6,-4.6 4,-8 8,-9.4 M386.2,38.4 l6.4,7.6 M392.2,37 l-4.4,8.2 M390.8,37.8 c8,-2.6 19,-1.6 25.6,3.4 M394,40.8 c-2.4,1.8 -2.4,5.4 0.6,6 c3,0.6 5,-2.6 3.6,-5.4 M396,40.2 l0.4,3.4 M400.8,40.4 c-2.4,1.8 -2.4,5.4 0.6,6 c3,0.6 5,-2.6 3.6,-5.4 M402.8,39.8 l0.4,3.4 M407.2,41.2 c-2.4,1.8 -2.4,5.4 0.6,6 c3,0.6 5,-2.6 3.6,-5.4 M409.2,40.6 l0.4,3.4 M412.2,42.4 c-2.4,1.8 -2.4,5.4 0.6,6 c3,0.6 5,-2.6 3.6,-5.4 M414.2,41.8 l0.4,3.4" fill="none" stroke="#111" stroke-width="2"/>
<path d="M423.4,49.8 c-3.4,-0.6 -5,-4.6 -2.6,-7.2 c2.6,-2.8 7.6,-1.8 8.6,1.8 c0.9,3.4 -1.8,6.4 -5.2,5.8 c-3,-0.6 -3.8,-4 -1.8,-5.6 c1.8,-1.4 4.2,-0.4 4,1.6 c-0.2,1.4 -1.8,1.8 -2.6,0.8 M419.4,48.6 c2.6,2 6.8,1.6 8.6,-1.2 M427.6,46.8 c1.6,-4.6 4,-8 8,-9.4 M430.6,38.4 l6.4,7.6 M436.6,37 l-4.4,8.2 M435.2,37.8 c8,-2.6 19,-1.6 25.6,3.4 M438.4,40.8 c-2.4,1.8 -2.4,5.4 0.6,6 c3,0.6 5,-2.6 3.6,-5.4 M440.4,40.2 l0.4,3.4 M445.2,40.4 c-2.4,1.8 -2.4,5.4 0.6,6 c3,0.6 5,-2.6 3.6,-5.4 M447.2,39.8 l0.4,3.4 M451.6,41.2 c-2.4,1.8 -2.4,5.4 0.6,6 c3,0.6 5,-2.6 3.6,-5.4 M453.6,40.6 l0.4,3.4 M456.6,42.4 c-2.4,1.8 -2.4,5.4 0.6,6 c3,0.6 5,-2.6 3.6,-5.4 M458.6,41.8 l0.4,3.4" fill="none" stroke="#111" stroke-width="2"/>
<path d="M468.4,49.8 c-3.4,-0.6 -5,-4.6 -2.6,-7.2 c2.6,-2.8 7.6,-1.8 8.6,1.8 c0.9,3.4 -1.8,6.4 -5.2,5.8 c-3,-0.6 -3.8,-4 -1.8,-5.6 c1.8,-1.4 4.2,-0.4 4,1.6 c-0.2,1.4 -1.8,1.8 -2.6,0.8 M464.4,48.6 c2.6,2 6.8,1.6 8.6,-1.2 M472.6,46.8 c1.6,-4.6 4,-8 8,-9.4 M475.6,38.4 l6.4,7.6 M481.6,37 l-4.4,8.2 M480.2,37.8 c8,-2.6 19,-1.6 25.6,3.4 M483.4,40.8 c-2.4,1.8 -2.4,5.4 0.6,6 c3,0.6 5,-2.6 3.6,-5.4 M485.4,40.2 l0.4,3.4 M490.2,40.4 c-2.4,1.8 -2.4,5.4 0.6,6 c3,0.6 5,-2.6 3.6,-5.4 M492.2,39.8 l0.4,3.4 M496.6,41.2 c-2.4,1.8 -2.4,5.4 0.6,6 c3,0.6 5,-2.6 3.6,-5.4 M498.6,40.6 l0.4,3.4 M501.6,42.4 c-2.4,1.8 -2.4,5.4 0.6,6 c3,0.6 5,-2.6 3.6,-5.4 M503.6,41.8 l0.4,3.4" fill="none" stroke="#111" stroke-width="2"/>
<path d="M430.6,113.8 L430.6,126.4 L447.8,126.4 L447.8,113.8" fill="#fff" stroke="#111" stroke-width="1.3"/>
<line x1="444.2" y1="114.5" x2="444.2" y2="126" stroke="#111" stroke-width="1"/>
<path d="M431.8,126.4 L431.8,177.6 M446.2,126.4 L446.2,177.6" fill="none" stroke="#111" stroke-width="1.3"/>
<line x1="443.9" y1="127" x2="443.9" y2="177.6" stroke="#111" stroke-width="0.9"/>
<path d="M427.6,177.6 L449,177.6 L449,190.2 L427.6,190.2Z" fill="#fff" stroke="#111" stroke-width="1.3"/>
<path d="M427.6,182.4 L449,182.4 M427.6,187.4 L449,187.4" fill="none" stroke="#111" stroke-width="1.3"/>
<path d="M431,190.6 L431,205 Q431,214.4 438.3,214.4 Q445.6,214.4 445.6,205 L445.6,190.6" fill="none" stroke="#111" stroke-width="6" stroke-linecap="butt"/>
<path d="M431,190.6 L431,205 Q431,214.4 438.3,214.4 Q445.6,214.4 445.6,205 L445.6,190.6" fill="none" stroke="#fff" stroke-width="3.6" stroke-linecap="butt"/>
<path d="M431,318 L431,305 Q431,295.4 438.3,295.4 Q445.6,295.4 445.6,305 L445.6,318" fill="none" stroke="#111" stroke-width="6" stroke-linecap="butt"/>
<path d="M431,318 L431,305 Q431,295.4 438.3,295.4 Q445.6,295.4 445.6,305 L445.6,318" fill="none" stroke="#fff" stroke-width="3.6" stroke-linecap="butt"/>
<path d="M435.6,207.8 L440.2,207.8 Q449,207.8 449,216.6 L449,256.4 Q449,265.2 440.2,265.2 L435.6,265.2 Q426.8,265.2 426.8,256.4 L426.8,216.6 Q426.8,207.8 435.6,207.8Z" fill="none" stroke="#111" stroke-width="5.8"/>
<path d="M435.6,207.8 L440.2,207.8 Q449,207.8 449,216.6 L449,256.4 Q449,265.2 440.2,265.2 L435.6,265.2 Q426.8,265.2 426.8,256.4 L426.8,216.6 Q426.8,207.8 435.6,207.8Z" fill="none" stroke="#fff" stroke-width="3.4"/>
<path d="M431,199 L431,205 Q431,214.4 438.3,214.4 L440.5,214.2" fill="none" stroke="#111" stroke-width="6" stroke-linecap="butt"/>
<path d="M431,199 L431,205 Q431,214.4 438.3,214.4 L440.5,214.2" fill="none" stroke="#fff" stroke-width="3.6" stroke-linecap="butt"/>
<path d="M438.6,262.2 Q445.6,262.2 445.6,269.2 L445.6,294.4 Q445.6,301.4 438.6,301.4 Q431.4,301.4 431.4,294.4 L431.4,269.2 Q431.4,262.2 438.6,262.2Z" fill="none" stroke="#111" stroke-width="5.4"/>
<path d="M438.6,262.2 Q445.6,262.2 445.6,269.2 L445.6,294.4 Q445.6,301.4 438.6,301.4 Q431.4,301.4 431.4,294.4 L431.4,269.2 Q431.4,262.2 438.6,262.2Z" fill="none" stroke="#fff" stroke-width="3"/>
<path d="M449,250 L449,256.4 Q449,265.2 440.2,265.2 L437.6,265.2" fill="none" stroke="#111" stroke-width="5.8" stroke-linecap="butt"/>
<path d="M449,250 L449,256.4 Q449,265.2 440.2,265.2 L437.6,265.2" fill="none" stroke="#fff" stroke-width="3.4" stroke-linecap="butt"/>
<path d="M436.4,295.6 L438.3,295.4 Q445.6,295.4 445.6,305 L445.6,311" fill="none" stroke="#111" stroke-width="6" stroke-linecap="butt"/>
<path d="M436.4,295.6 L438.3,295.4 Q445.6,295.4 445.6,305 L445.6,311" fill="none" stroke="#fff" stroke-width="3.6" stroke-linecap="butt"/>
<path d="M442.4,273.2 L450,273.2 L450.4,275.4 L450.4,286.2 L450,288.4 L442.4,288.4 L442,286.2 L442,275.4Z" fill="#fff" stroke="#111" stroke-width="1"/>
<path d="M442.2,275.6 L450.2,275.6 M442.2,286 L450.2,286 M444.4,275.8 L444.4,285.8 M446.2,275.8 L446.2,285.8 M448,275.8 L448,285.8" fill="none" stroke="#333" stroke-width="0.7"/>
<path d="M444.2,269 L444.2,273.2 L448.4,273.2 L448.4,269 M444.2,292 L444.2,288.4 L448.4,288.4 L448.4,292" fill="#fff" stroke="#111" stroke-width="1"/>
<path d="M417.3,235.3 L459.5,224.1 L459.5,238 L417.3,248.7Z" fill="#fff" stroke="none" stroke-width="0"/>
<path d="M417.3,235.3 L459.5,224.1 M417.3,248.7 L459.5,238" fill="none" stroke="#111" stroke-width="1.3"/>
<path d="M372.9,316.3C373.8,317.1 376.1,319.6 378.1,321.1C380,322.6 382.1,324 384.4,325.1C386.6,326.2 389.3,327.2 391.5,327.9C393.7,328.6 395.2,328.7 397.5,329.1C399.8,329.5 404.2,330.3 405.5,330.5 L471.1,330.5 L471.1,330.5C472.4,330.3 476.8,329.5 479.1,329.1C481.4,328.7 482.9,328.6 485.1,327.9C487.3,327.2 490,326.2 492.2,325.1C494.5,324 496.6,322.6 498.5,321.1C500.5,319.6 502.8,317.1 503.7,316.3Z" fill="#fff" stroke="none" stroke-width="0"/>
<path d="M372.9,316.3C373.8,317.1 376.1,319.6 378.1,321.1C380,322.6 382.1,324 384.4,325.1C386.6,326.2 389.3,327.2 391.5,327.9C393.7,328.6 395.2,328.7 397.5,329.1C399.8,329.5 404.2,330.3 405.5,330.5" fill="none" stroke="#111" stroke-width="1.5"/>
<path d="M376.5,317.8C377.5,318.5 380.8,320.9 382.8,322.1C384.9,323.4 387,324.5 388.8,325.3C390.5,326.1 392.5,326.8 393.3,327.1" fill="none" stroke="#111" stroke-width="1"/>
<path d="M372.9,316.3 L389.7,318.9" fill="none" stroke="#111" stroke-width="1.3"/>
<path d="M393.2,326.9 L389.2,319.1 C388.8,316.1 393.4,316.1 393.4,318.9 L397.8,327.8" fill="#fff" stroke="#111" stroke-width="1.3"/>
<path d="M398.2,327.7 L393.8,319.1 C393.4,316.1 398,316.1 398,318.9 L402.8,328.6" fill="#fff" stroke="#111" stroke-width="1.3"/>
<path d="M403,328.9 L398.2,319.1 C397.8,316.1 402.4,316.1 402.4,318.9 L407.6,329.8" fill="#fff" stroke="#111" stroke-width="1.3"/>
<path d="M406.9,328.5C406.6,327.6 405.7,324.9 405.1,323.3C404.5,321.7 403.4,320.1 403.3,319.1C403.2,318.1 403.9,317.9 404.5,317.5C405.1,317.1 406.5,317 406.9,316.9 L441.3,316.9" fill="none" stroke="#a6a6a6" stroke-width="2.1"/>
<path d="M411.7,329.9C411.6,329 410.9,326 411.1,324.7C411.3,323.4 412.2,322.5 413.1,321.9C414,321.3 415.5,321.1 416.7,321.1C417.8,321.1 419.1,321.4 420.1,321.9C421.1,322.4 421.9,323 422.6,324.3C423.2,325.6 423.8,329 424.1,329.9" fill="none" stroke="#111" stroke-width="1.3"/>
<path d="M503.7,316.3C502.8,317.1 500.5,319.6 498.5,321.1C496.6,322.6 494.5,324 492.2,325.1C490,326.2 487.3,327.2 485.1,327.9C482.9,328.6 481.4,328.7 479.1,329.1C476.8,329.5 472.4,330.3 471.1,330.5" fill="none" stroke="#111" stroke-width="1.5"/>
<path d="M500.1,317.8C499.1,318.5 495.8,320.9 493.8,322.1C491.7,323.4 489.6,324.5 487.8,325.3C486.1,326.1 484.1,326.8 483.3,327.1" fill="none" stroke="#111" stroke-width="1"/>
<path d="M503.7,316.3 L486.9,318.9" fill="none" stroke="#111" stroke-width="1.3"/>
<path d="M483.4,326.9 L487.4,319.1 C487.8,316.1 483.2,316.1 483.2,318.9 L478.8,327.8" fill="#fff" stroke="#111" stroke-width="1.3"/>
<path d="M478.4,327.7 L482.8,319.1 C483.2,316.1 478.6,316.1 478.6,318.9 L473.8,328.6" fill="#fff" stroke="#111" stroke-width="1.3"/>
<path d="M473.6,328.9 L478.4,319.1 C478.8,316.1 474.2,316.1 474.2,318.9 L469,329.8" fill="#fff" stroke="#111" stroke-width="1.3"/>
<path d="M469.7,328.5C470,327.6 470.9,324.9 471.5,323.3C472.1,321.7 473.2,320.1 473.3,319.1C473.4,318.1 472.7,317.9 472.1,317.5C471.5,317.1 470.1,317 469.7,316.9 L435.3,316.9" fill="none" stroke="#a6a6a6" stroke-width="2.1"/>
<path d="M464.9,329.9C465,329 465.7,326 465.5,324.7C465.3,323.4 464.4,322.5 463.5,321.9C462.6,321.3 461.1,321.1 459.9,321.1C458.8,321.1 457.5,321.4 456.5,321.9C455.5,322.4 454.7,323 454,324.3C453.4,325.6 452.8,329 452.5,329.9" fill="none" stroke="#111" stroke-width="1.3"/>
<path d="M427.4,316 L449,316 L449,329.6 L427.4,329.6Z" fill="#fff" stroke="#111" stroke-width="1.3"/>
<path d="M427.4,319.4 L449,319.4 M427.4,326.6 L449,326.6" fill="none" stroke="#111" stroke-width="1.1"/>
<path d="M434.6,319.6 L434.6,326.4 M442,319.6 L442,326.4 M436.2,324.8 l2.1,-3.8 l2.1,3.8 z" fill="none" stroke="#111" stroke-width="1"/>
<circle cx="438.3" cy="317.8" r="1.1" fill="#111"/>
<path d="M405.4,330.6 L471.4,330.6 Q472.4,330.6 472.4,331.6 L472.4,333 Q472.4,334 471.4,334 L405.4,334 Q404.4,334 404.4,333 L404.4,331.6 Q404.4,330.6 405.4,330.6Z" fill="#fff" stroke="#111" stroke-width="1.3"/>
<path d="M408.7,334.3C409.1,334.8 410.2,336.2 411.3,337.2C412.4,338.3 413.8,339.7 415.3,340.7C416.8,341.6 418.4,342.2 420.1,342.9C421.8,343.6 424.8,344.3 425.7,344.6 L451.3,344.6 L451.3,344.6C452.2,344.3 455.2,343.6 456.9,342.9C458.6,342.2 460.2,341.6 461.7,340.7C463.2,339.7 464.6,338.3 465.7,337.2C466.8,336.2 467.9,334.8 468.3,334.3Z" fill="#fff" stroke="#111" stroke-width="1.4"/>
<path d="M412.1,335.2C412.5,335.6 413.4,336.9 414.3,337.8C415.2,338.6 416.5,339.6 417.7,340.3C418.9,341 420.7,341.7 421.3,341.9" fill="none" stroke="#111" stroke-width="1"/>
<path d="M464.9,335.2C464.5,335.6 463.6,336.9 462.7,337.8C461.8,338.6 460.5,339.6 459.3,340.3C458.1,341 456.3,341.7 455.7,341.9" fill="none" stroke="#111" stroke-width="1"/>
<path d="M435.3,335.4 L436.3,344.1 M428.9,335.4 L430.7,343.7 M422.5,335.4 L425.1,342.6 M416.1,335.4 L419.7,340.5 M441.7,335.4 L440.7,344.1 M448.1,335.4 L446.3,343.7 M454.5,335.4 L451.9,342.6 M460.9,335.4 L457.3,340.5 " fill="none" stroke="#111" stroke-width="1.9"/>
<path d="M440.7,342.9 Q438.5,344.7 436.3,342.9 M436.3,342.9 Q433.5,344.7 430.7,342.5 M430.7,342.5 Q427.9,344.3 425.1,341.4 M425.1,341.4 Q422.4,343.2 419.7,339.3 M436.3,342.9 Q438.5,344.7 440.7,342.9 M440.7,342.9 Q443.5,344.7 446.3,342.5 M446.3,342.5 Q449.1,344.3 451.9,341.4 M451.9,341.4 Q454.6,343.2 457.3,339.3 " fill="none" stroke="#111" stroke-width="1"/>
<path d="M424.4,345 L452.2,345 L452.2,347.9 L424.4,347.9Z" fill="#fff" stroke="#111" stroke-width="1.3"/>
<path d="M427.7,348 L427.7,481.4 M449.3,348 L449.3,481.4" fill="none" stroke="#111" stroke-width="1.5"/>
<path d="M427.7,543.5 L427.7,678.6 M449.3,543.5 L449.3,678.6" fill="none" stroke="#111" stroke-width="1.5"/>
<path d="M427.4,481.4 L450.2,481.4 C452,494 466,503 479,506.6 L479,518 C466,521.6 452,530.6 450.2,543.5 L427.4,543.5 C425.6,530.6 411,521.6 398,518 L398,506.6 C411,503 425.6,494 427.4,481.4Z" fill="#fff" stroke="none" stroke-width="0"/>
<line x1="427.4" y1="481.4" x2="450.2" y2="481.4" stroke="#111" stroke-width="1.3"/>
<line x1="427.4" y1="543.5" x2="450.2" y2="543.5" stroke="#111" stroke-width="1.3"/>
<path d="M427.4,481.4C427.3,481.9 427.1,483.3 426.7,484.2C426.3,485.1 425.8,486.1 425.1,487C424.5,487.9 423.7,488.9 422.9,489.8C422,490.7 421.1,491.7 420,492.6C419,493.5 417.9,494.5 416.6,495.4C415.4,496.3 414.1,497.3 412.7,498.2C411.4,499.1 409.9,500.1 408.4,501C406.8,501.9 405.2,502.9 403.5,503.8C401.8,504.7 399.1,506.1 398.2,506.6" fill="none" stroke="#111" stroke-width="1.4"/>
<path d="M429.2,481.9C429,482.3 428.8,483.7 428.5,484.6C428.1,485.5 427.6,486.3 427.1,487.2C426.5,488.1 425.8,489 425.1,489.9C424.3,490.8 423.5,491.7 422.5,492.5C421.6,493.4 420.6,494.3 419.5,495.2C418.4,496.1 417.2,497 415.9,497.9C414.7,498.8 413.3,499.6 411.9,500.5C410.5,501.4 409,502.3 407.4,503.2C405.9,504.1 403.3,505.4 402.5,505.8" fill="none" stroke="#111" stroke-width="0.9"/>
<path d="M431.2,481.9C431.1,482.4 431,483.7 430.7,484.6C430.5,485.5 430.1,486.4 429.6,487.3C429.2,488.2 428.6,489.1 428,490C427.4,490.9 426.6,491.8 425.8,492.7C425,493.6 424.1,494.4 423.1,495.3C422.1,496.2 421.1,497.1 419.9,498C418.7,498.9 417.5,499.8 416.2,500.7C414.9,501.6 413.4,502.5 411.9,503.4C410.5,504.3 408,505.6 407.2,506.1" fill="none" stroke="#111" stroke-width="1"/>
<path d="M432.8,481.9C432.7,482.4 432.6,483.7 432.4,484.6C432.2,485.5 431.9,486.4 431.5,487.3C431.1,488.2 430.6,489.1 430,490C429.4,490.9 428.8,491.8 428,492.7C427.3,493.6 426.5,494.4 425.5,495.3C424.6,496.2 423.6,497.1 422.5,498C421.4,498.9 420.3,499.8 419,500.7C417.7,501.6 416.4,502.5 415,503.4C413.5,504.3 411.2,505.6 410.4,506.1" fill="none" stroke="#111" stroke-width="1"/>
<path d="M434.3,481.9C434.3,482.4 434.3,483.7 434.2,484.6C434.1,485.5 434,486.4 433.8,487.3C433.7,488.2 433.4,489.1 433.2,490C432.9,490.9 432.6,491.8 432.2,492.7C431.8,493.6 431.4,494.4 430.9,495.3C430.4,496.2 429.9,497.1 429.3,498C428.7,498.9 428,499.8 427.3,500.7C426.6,501.6 425.8,502.5 424.9,503.4C424.1,504.3 422.6,505.6 422.2,506.1" fill="none" stroke="#111" stroke-width="1"/>
<path d="M435.7,481.9C435.7,482.2 435.7,483 435.7,483.6C435.6,484.1 435.6,484.7 435.6,485.3C435.5,485.8 435.5,486.4 435.4,486.9C435.3,487.5 435.3,488.1 435.2,488.6C435.1,489.2 434.9,489.7 434.8,490.3C434.7,490.9 434.5,491.4 434.4,492C434.2,492.5 434,493.1 433.8,493.7C433.6,494.2 433.4,494.8 433.1,495.3C432.9,495.9 432.5,496.7 432.3,497" fill="none" stroke="#111" stroke-width="1"/>
<path d="M418.9,503C418.6,503 417.9,503.3 417.4,503.3C416.8,503.3 416.3,503.3 415.8,503.1C415.4,503 415,502.7 414.7,502.5C414.4,502.2 414.1,501.9 414,501.6C413.9,501.2 413.9,500.9 414,500.6C414.1,500.3 414.4,500 414.6,499.8C414.9,499.5 415.2,499.4 415.5,499.3C415.9,499.2 416.3,499.1 416.6,499.1C417,499.2 417.3,499.3 417.6,499.4C417.8,499.5 418.1,499.7 418.2,499.9C418.4,500.1 418.5,500.3 418.5,500.5C418.5,500.7 418.4,500.9 418.3,501C418.2,501.2 418.1,501.3 417.9,501.4C417.7,501.5 417.5,501.6 417.3,501.6C417.1,501.7 416.9,501.6 416.8,501.6C416.6,501.6 416.5,501.5 416.4,501.4C416.3,501.3 416.2,501.2 416.2,501.1" fill="none" stroke="#111" stroke-width="1.5"/>
<path d="M418.9,503C417.7,503.2 413.8,503.6 411.9,504.1C410.1,504.6 408.6,505.7 407.9,506" fill="none" stroke="#111" stroke-width="1"/>
<path d="M424.1,506C423.6,505.6 422.2,503.9 421.2,503.6C420.3,503.3 418.8,503.7 418.4,504.1C418,504.4 418.7,505.4 418.8,505.7" fill="none" stroke="#111" stroke-width="1"/>
<path d="M432.3,499.3C432.3,499.3 432.3,499.6 432.2,499.7C432.2,499.8 432.1,500 431.9,500.1C431.7,500.2 431.5,500.3 431.3,500.3C431.1,500.3 430.8,500.3 430.6,500.2C430.4,500.1 430.1,499.9 430,499.8C429.8,499.6 429.7,499.3 429.6,499C429.6,498.8 429.6,498.5 429.7,498.2C429.8,497.9 429.9,497.6 430.2,497.4C430.4,497.1 430.8,496.9 431.1,496.8C431.5,496.7 432,496.7 432.3,496.7C432.7,496.8 433.2,497 433.5,497.2C433.9,497.5 434.2,497.8 434.4,498.2C434.6,498.6 434.7,499.1 434.7,499.5C434.7,499.9 434.5,500.4 434.3,500.8C434,501.3 433.6,501.7 433.1,501.9C432.7,502.2 431.8,502.4 431.5,502.4" fill="none" stroke="#111" stroke-width="1.4"/>
<path d="M431.5,502.4C430.9,502.4 428.5,501.7 427.7,502.3C426.9,502.9 426.7,505.4 426.5,506" fill="none" stroke="#111" stroke-width="1"/>
<path d="M435.2,496.5C434.7,496.1 433.2,494.2 432.1,494C431.1,493.8 429.4,494.7 428.7,495.5C428,496.4 427.9,498.5 427.7,499" fill="none" stroke="#111" stroke-width="1"/>
<path d="M435.8,506C435.4,505.6 434.6,504 433.8,503.7C432.9,503.4 431.6,503.7 430.9,504.1C430.3,504.5 430.1,505.7 429.9,506" fill="none" stroke="#111" stroke-width="1"/>
<path d="M449.8,481.4C449.9,481.9 450.1,483.3 450.5,484.2C450.9,485.1 451.4,486.1 452.1,487C452.7,487.9 453.5,488.9 454.3,489.8C455.2,490.7 456.1,491.7 457.2,492.6C458.2,493.5 459.3,494.5 460.6,495.4C461.8,496.3 463.1,497.3 464.5,498.2C465.8,499.1 467.3,500.1 468.8,501C470.4,501.9 472,502.9 473.7,503.8C475.4,504.7 478.1,506.1 479,506.6" fill="none" stroke="#111" stroke-width="1.4"/>
<path d="M448,481.9C448.2,482.3 448.4,483.7 448.7,484.6C449.1,485.5 449.6,486.3 450.1,487.2C450.7,488.1 451.4,489 452.1,489.9C452.9,490.8 453.7,491.7 454.7,492.5C455.6,493.4 456.6,494.3 457.7,495.2C458.8,496.1 460,497 461.3,497.9C462.5,498.8 463.9,499.6 465.3,500.5C466.7,501.4 468.2,502.3 469.8,503.2C471.3,504.1 473.9,505.4 474.7,505.8" fill="none" stroke="#111" stroke-width="0.9"/>
<path d="M446,481.9C446.1,482.4 446.2,483.7 446.5,484.6C446.7,485.5 447.1,486.4 447.6,487.3C448,488.2 448.6,489.1 449.2,490C449.8,490.9 450.6,491.8 451.4,492.7C452.2,493.6 453.1,494.4 454.1,495.3C455.1,496.2 456.1,497.1 457.3,498C458.5,498.9 459.7,499.8 461,500.7C462.3,501.6 463.8,502.5 465.3,503.4C466.7,504.3 469.2,505.6 470,506.1" fill="none" stroke="#111" stroke-width="1"/>
<path d="M444.4,481.9C444.5,482.4 444.6,483.7 444.8,484.6C445,485.5 445.3,486.4 445.7,487.3C446.1,488.2 446.6,489.1 447.2,490C447.8,490.9 448.4,491.8 449.2,492.7C449.9,493.6 450.7,494.4 451.7,495.3C452.6,496.2 453.6,497.1 454.7,498C455.8,498.9 456.9,499.8 458.2,500.7C459.5,501.6 460.8,502.5 462.2,503.4C463.7,504.3 466,505.6 466.8,506.1" fill="none" stroke="#111" stroke-width="1"/>
<path d="M442.9,481.9C442.9,482.4 442.9,483.7 443,484.6C443.1,485.5 443.2,486.4 443.4,487.3C443.5,488.2 443.8,489.1 444,490C444.3,490.9 444.6,491.8 445,492.7C445.4,493.6 445.8,494.4 446.3,495.3C446.8,496.2 447.3,497.1 447.9,498C448.5,498.9 449.2,499.8 449.9,500.7C450.6,501.6 451.4,502.5 452.3,503.4C453.1,504.3 454.6,505.6 455,506.1" fill="none" stroke="#111" stroke-width="1"/>
<path d="M441.5,481.9C441.5,482.2 441.5,483 441.5,483.6C441.6,484.1 441.6,484.7 441.6,485.3C441.7,485.8 441.7,486.4 441.8,486.9C441.9,487.5 441.9,488.1 442,488.6C442.1,489.2 442.3,489.7 442.4,490.3C442.5,490.9 442.7,491.4 442.8,492C443,492.5 443.2,493.1 443.4,493.7C443.6,494.2 443.8,494.8 444.1,495.3C444.3,495.9 444.7,496.7 444.9,497" fill="none" stroke="#111" stroke-width="1"/>
<path d="M458.3,503C458.6,503 459.3,503.3 459.8,503.3C460.4,503.3 460.9,503.3 461.4,503.1C461.8,503 462.2,502.7 462.5,502.5C462.8,502.2 463.1,501.9 463.2,501.6C463.3,501.2 463.3,500.9 463.2,500.6C463.1,500.3 462.8,500 462.6,499.8C462.3,499.5 462,499.4 461.7,499.3C461.3,499.2 460.9,499.1 460.6,499.1C460.2,499.2 459.9,499.3 459.6,499.4C459.4,499.5 459.1,499.7 459,499.9C458.8,500.1 458.7,500.3 458.7,500.5C458.7,500.7 458.8,500.9 458.9,501C459,501.2 459.1,501.3 459.3,501.4C459.5,501.5 459.7,501.6 459.9,501.6C460.1,501.7 460.3,501.6 460.4,501.6C460.6,501.6 460.7,501.5 460.8,501.4C460.9,501.3 461,501.2 461,501.1" fill="none" stroke="#111" stroke-width="1.5"/>
<path d="M458.3,503C459.5,503.2 463.4,503.6 465.3,504.1C467.1,504.6 468.6,505.7 469.3,506" fill="none" stroke="#111" stroke-width="1"/>
<path d="M453.1,506C453.6,505.6 455,503.9 456,503.6C456.9,503.3 458.4,503.7 458.8,504.1C459.2,504.4 458.5,505.4 458.4,505.7" fill="none" stroke="#111" stroke-width="1"/>
<path d="M444.9,499.3C444.9,499.3 444.9,499.6 445,499.7C445,499.8 445.1,500 445.3,500.1C445.5,500.2 445.7,500.3 445.9,500.3C446.1,500.3 446.4,500.3 446.6,500.2C446.8,500.1 447.1,499.9 447.2,499.8C447.4,499.6 447.5,499.3 447.6,499C447.6,498.8 447.6,498.5 447.5,498.2C447.4,497.9 447.3,497.6 447,497.4C446.8,497.1 446.4,496.9 446.1,496.8C445.7,496.7 445.2,496.7 444.9,496.7C444.5,496.8 444,497 443.7,497.2C443.3,497.5 443,497.8 442.8,498.2C442.6,498.6 442.5,499.1 442.5,499.5C442.5,499.9 442.7,500.4 442.9,500.8C443.2,501.3 443.6,501.7 444.1,501.9C444.5,502.2 445.4,502.4 445.7,502.4" fill="none" stroke="#111" stroke-width="1.4"/>
<path d="M445.7,502.4C446.3,502.4 448.7,501.7 449.5,502.3C450.3,502.9 450.5,505.4 450.7,506" fill="none" stroke="#111" stroke-width="1"/>
<path d="M442,496.5C442.5,496.1 444,494.2 445.1,494C446.1,493.8 447.8,494.7 448.5,495.5C449.2,496.4 449.3,498.5 449.5,499" fill="none" stroke="#111" stroke-width="1"/>
<path d="M441.4,506C441.8,505.6 442.6,504 443.4,503.7C444.3,503.4 445.6,503.7 446.3,504.1C446.9,504.5 447.1,505.7 447.3,506" fill="none" stroke="#111" stroke-width="1"/>
<path d="M438.6,483.9 C437.2,483.9 437.1,484.9 437.1,485.9 L437,494 C436.8,497 435.7,499 435.7,502.1 C435.7,504.1 436.9,505.5 438.6,505.5 C440.3,505.5 441.5,504.1 441.5,502.1 C441.5,499 440.4,497 440.2,494 L440.1,485.9 C440.1,484.9 440,483.9 438.6,483.9Z" fill="#fff" stroke="#111" stroke-width="1.1"/>
<path d="M427.4,543.5C427.3,543 427.1,541.6 426.7,540.7C426.3,539.7 425.8,538.8 425.1,537.8C424.5,536.9 423.7,535.9 422.9,535C422,534.1 421.1,533.1 420,532.2C419,531.2 417.9,530.3 416.6,529.3C415.4,528.4 414.1,527.4 412.7,526.5C411.4,525.6 409.9,524.6 408.4,523.7C406.8,522.7 405.2,521.8 403.5,520.8C401.8,519.9 399.1,518.5 398.2,518" fill="none" stroke="#111" stroke-width="1.4"/>
<path d="M429.2,543C429,542.5 428.8,541.2 428.5,540.3C428.1,539.4 427.6,538.5 427.1,537.6C426.5,536.7 425.8,535.8 425.1,534.9C424.3,534 423.5,533.1 422.5,532.2C421.6,531.3 420.6,530.4 419.5,529.5C418.4,528.6 417.2,527.7 415.9,526.8C414.7,525.9 413.3,525 411.9,524.1C410.5,523.3 409,522.4 407.4,521.5C405.9,520.6 403.3,519.2 402.5,518.8" fill="none" stroke="#111" stroke-width="0.9"/>
<path d="M431.2,543C431.1,542.5 431,541.2 430.7,540.3C430.5,539.4 430.1,538.5 429.6,537.5C429.2,536.6 428.6,535.7 428,534.8C427.4,533.9 426.6,533 425.8,532.1C425,531.2 424.1,530.3 423.1,529.4C422.1,528.5 421.1,527.6 419.9,526.7C418.7,525.8 417.5,524.9 416.2,524C414.9,523 413.4,522.1 411.9,521.2C410.5,520.3 408,519 407.2,518.5" fill="none" stroke="#111" stroke-width="1"/>
<path d="M432.8,543C432.7,542.5 432.6,541.2 432.4,540.3C432.2,539.4 431.9,538.5 431.5,537.5C431.1,536.6 430.6,535.7 430,534.8C429.4,533.9 428.8,533 428,532.1C427.3,531.2 426.5,530.3 425.5,529.4C424.6,528.5 423.6,527.6 422.5,526.7C421.4,525.8 420.3,524.9 419,524C417.7,523 416.4,522.1 415,521.2C413.5,520.3 411.2,519 410.4,518.5" fill="none" stroke="#111" stroke-width="1"/>
<path d="M434.3,543C434.3,542.5 434.3,541.2 434.2,540.3C434.1,539.4 434,538.5 433.8,537.5C433.7,536.6 433.4,535.7 433.2,534.8C432.9,533.9 432.6,533 432.2,532.1C431.8,531.2 431.4,530.3 430.9,529.4C430.4,528.5 429.9,527.6 429.3,526.7C428.7,525.8 428,524.9 427.3,524C426.6,523 425.8,522.1 424.9,521.2C424.1,520.3 422.6,519 422.2,518.5" fill="none" stroke="#111" stroke-width="1"/>
<path d="M435.7,543C435.7,542.7 435.7,541.9 435.7,541.3C435.6,540.7 435.6,540.2 435.6,539.6C435.5,539 435.5,538.5 435.4,537.9C435.3,537.3 435.3,536.8 435.2,536.2C435.1,535.6 434.9,535.1 434.8,534.5C434.7,533.9 434.5,533.4 434.4,532.8C434.2,532.2 434,531.7 433.8,531.1C433.6,530.5 433.4,530 433.1,529.4C432.9,528.8 432.5,528 432.3,527.7" fill="none" stroke="#111" stroke-width="1"/>
<path d="M414.6,521.7C414.5,521.8 413.9,522.3 413.7,522.7C413.5,523 413.4,523.5 413.5,523.8C413.5,524.2 413.7,524.6 413.9,524.9C414.2,525.2 414.6,525.4 415,525.6C415.3,525.8 415.8,525.9 416.2,525.9C416.6,525.9 417.1,525.9 417.5,525.7C417.8,525.6 418.2,525.4 418.4,525.2C418.6,525 418.8,524.8 418.9,524.5C419,524.3 419,524 418.9,523.7C418.8,523.5 418.6,523.3 418.4,523.1C418.3,523 418,522.8 417.7,522.8C417.5,522.7 417.2,522.7 417,522.7C416.7,522.7 416.5,522.8 416.3,522.9C416.1,523 416,523.1 415.9,523.2C415.8,523.4 415.8,523.5 415.8,523.6C415.8,523.8 415.8,523.9 415.9,524C416,524.1 416.1,524.1 416.2,524.2" fill="none" stroke="#111" stroke-width="1.5"/>
<path d="M414.6,521.7C414.2,521.5 413.1,521.1 411.9,520.5C410.8,520 408.6,519 407.9,518.6" fill="none" stroke="#111" stroke-width="1"/>
<path d="M424.1,518.6C423.6,519 422.2,520.7 421.2,521.1C420.3,521.4 418.8,520.9 418.4,520.5C418,520.2 418.7,519.2 418.8,518.9" fill="none" stroke="#111" stroke-width="1"/>
<path d="M432.3,525.9C432.4,525.8 432.5,525.7 432.5,525.5C432.6,525.4 432.6,525.2 432.5,525C432.4,524.8 432.3,524.7 432.2,524.5C432,524.4 431.8,524.3 431.5,524.2C431.3,524.2 431,524.2 430.7,524.2C430.5,524.3 430.2,524.4 430,524.6C429.7,524.8 429.5,525.1 429.4,525.3C429.3,525.6 429.3,526 429.3,526.3C429.4,526.6 429.5,527 429.8,527.3C430,527.5 430.3,527.8 430.7,528C431.1,528.1 431.5,528.2 432,528.2C432.4,528.2 432.9,528.1 433.3,527.9C433.7,527.7 434.1,527.4 434.4,527C434.7,526.6 434.9,526.1 434.9,525.6C435,525.2 434.9,524.6 434.7,524.2C434.5,523.7 433.9,523.1 433.8,522.9" fill="none" stroke="#111" stroke-width="1.4"/>
<path d="M433.8,522.9C432.7,522.8 428.9,523 427.7,522.3C426.5,521.6 426.7,519.3 426.5,518.6" fill="none" stroke="#111" stroke-width="1"/>
<path d="M435.2,528.2C434.7,528.6 433.2,530.6 432.1,530.8C431.1,530.9 429.4,530.1 428.7,529.2C428,528.4 427.9,526.2 427.7,525.6" fill="none" stroke="#111" stroke-width="1"/>
<path d="M435.8,518.6C435.4,519 434.6,520.6 433.8,520.9C432.9,521.3 431.6,520.9 430.9,520.5C430.3,520.2 430.1,519 429.9,518.6" fill="none" stroke="#111" stroke-width="1"/>
<path d="M449.8,543.5C449.9,543 450.1,541.6 450.5,540.7C450.9,539.7 451.4,538.8 452.1,537.8C452.7,536.9 453.5,535.9 454.3,535C455.2,534.1 456.1,533.1 457.2,532.2C458.2,531.2 459.3,530.3 460.6,529.3C461.8,528.4 463.1,527.4 464.5,526.5C465.8,525.6 467.3,524.6 468.8,523.7C470.4,522.7 472,521.8 473.7,520.8C475.4,519.9 478.1,518.5 479,518" fill="none" stroke="#111" stroke-width="1.4"/>
<path d="M448,543C448.2,542.5 448.4,541.2 448.7,540.3C449.1,539.4 449.6,538.5 450.1,537.6C450.7,536.7 451.4,535.8 452.1,534.9C452.9,534 453.7,533.1 454.7,532.2C455.6,531.3 456.6,530.4 457.7,529.5C458.8,528.6 460,527.7 461.3,526.8C462.5,525.9 463.9,525 465.3,524.1C466.7,523.3 468.2,522.4 469.8,521.5C471.3,520.6 473.9,519.2 474.7,518.8" fill="none" stroke="#111" stroke-width="0.9"/>
<path d="M446,543C446.1,542.5 446.2,541.2 446.5,540.3C446.7,539.4 447.1,538.5 447.6,537.5C448,536.6 448.6,535.7 449.2,534.8C449.8,533.9 450.6,533 451.4,532.1C452.2,531.2 453.1,530.3 454.1,529.4C455.1,528.5 456.1,527.6 457.3,526.7C458.5,525.8 459.7,524.9 461,524C462.3,523 463.8,522.1 465.3,521.2C466.7,520.3 469.2,519 470,518.5" fill="none" stroke="#111" stroke-width="1"/>
<path d="M444.4,543C444.5,542.5 444.6,541.2 444.8,540.3C445,539.4 445.3,538.5 445.7,537.5C446.1,536.6 446.6,535.7 447.2,534.8C447.8,533.9 448.4,533 449.2,532.1C449.9,531.2 450.7,530.3 451.7,529.4C452.6,528.5 453.6,527.6 454.7,526.7C455.8,525.8 456.9,524.9 458.2,524C459.5,523 460.8,522.1 462.2,521.2C463.7,520.3 466,519 466.8,518.5" fill="none" stroke="#111" stroke-width="1"/>
<path d="M442.9,543C442.9,542.5 442.9,541.2 443,540.3C443.1,539.4 443.2,538.5 443.4,537.5C443.5,536.6 443.8,535.7 444,534.8C444.3,533.9 444.6,533 445,532.1C445.4,531.2 445.8,530.3 446.3,529.4C446.8,528.5 447.3,527.6 447.9,526.7C448.5,525.8 449.2,524.9 449.9,524C450.6,523 451.4,522.1 452.3,521.2C453.1,520.3 454.6,519 455,518.5" fill="none" stroke="#111" stroke-width="1"/>
<path d="M441.5,543C441.5,542.7 441.5,541.9 441.5,541.3C441.6,540.7 441.6,540.2 441.6,539.6C441.7,539 441.7,538.5 441.8,537.9C441.9,537.3 441.9,536.8 442,536.2C442.1,535.6 442.3,535.1 442.4,534.5C442.5,533.9 442.7,533.4 442.8,532.8C443,532.2 443.2,531.7 443.4,531.1C443.6,530.5 443.8,530 444.1,529.4C444.3,528.8 444.7,528 444.9,527.7" fill="none" stroke="#111" stroke-width="1"/>
<path d="M462.6,521.7C462.7,521.8 463.3,522.3 463.5,522.7C463.7,523 463.8,523.5 463.7,523.8C463.7,524.2 463.5,524.6 463.3,524.9C463,525.2 462.6,525.4 462.2,525.6C461.9,525.8 461.4,525.9 461,525.9C460.6,525.9 460.1,525.9 459.7,525.7C459.4,525.6 459,525.4 458.8,525.2C458.6,525 458.4,524.8 458.3,524.5C458.2,524.3 458.2,524 458.3,523.7C458.4,523.5 458.6,523.3 458.8,523.1C458.9,523 459.2,522.8 459.5,522.8C459.7,522.7 460,522.7 460.2,522.7C460.5,522.7 460.7,522.8 460.9,522.9C461.1,523 461.2,523.1 461.3,523.2C461.4,523.4 461.4,523.5 461.4,523.6C461.4,523.8 461.4,523.9 461.3,524C461.2,524.1 461.1,524.1 461,524.2" fill="none" stroke="#111" stroke-width="1.5"/>
<path d="M462.6,521.7C463,521.5 464.1,521.1 465.3,520.5C466.4,520 468.6,519 469.3,518.6" fill="none" stroke="#111" stroke-width="1"/>
<path d="M453.1,518.6C453.6,519 455,520.7 456,521.1C456.9,521.4 458.4,520.9 458.8,520.5C459.2,520.2 458.5,519.2 458.4,518.9" fill="none" stroke="#111" stroke-width="1"/>
<path d="M444.9,525.9C444.8,525.8 444.7,525.7 444.7,525.5C444.6,525.4 444.6,525.2 444.7,525C444.8,524.8 444.9,524.7 445,524.5C445.2,524.4 445.4,524.3 445.7,524.2C445.9,524.2 446.2,524.2 446.5,524.2C446.7,524.3 447,524.4 447.2,524.6C447.5,524.8 447.7,525.1 447.8,525.3C447.9,525.6 447.9,526 447.9,526.3C447.8,526.6 447.7,527 447.4,527.3C447.2,527.5 446.9,527.8 446.5,528C446.1,528.1 445.7,528.2 445.2,528.2C444.8,528.2 444.3,528.1 443.9,527.9C443.5,527.7 443.1,527.4 442.8,527C442.5,526.6 442.3,526.1 442.3,525.6C442.2,525.2 442.3,524.6 442.5,524.2C442.7,523.7 443.3,523.1 443.4,522.9" fill="none" stroke="#111" stroke-width="1.4"/>
<path d="M443.4,522.9C444.5,522.8 448.3,523 449.5,522.3C450.7,521.6 450.5,519.3 450.7,518.6" fill="none" stroke="#111" stroke-width="1"/>
<path d="M442,528.2C442.5,528.6 444,530.6 445.1,530.8C446.1,530.9 447.8,530.1 448.5,529.2C449.2,528.4 449.3,526.2 449.5,525.6" fill="none" stroke="#111" stroke-width="1"/>
<path d="M441.4,518.6C441.8,519 442.6,520.6 443.4,520.9C444.3,521.3 445.6,520.9 446.3,520.5C446.9,520.2 447.1,519 447.3,518.6" fill="none" stroke="#111" stroke-width="1"/>
<path d="M438.6,541 C437.2,541 437.1,539.9 437.1,538.9 L437,530.8 C436.8,527.7 435.7,525.6 435.7,522.6 C435.7,520.5 436.9,519.1 438.6,519.1 C440.3,519.1 441.5,520.5 441.5,522.6 C441.5,525.6 440.4,527.7 440.2,530.8 L440.1,538.9 C440.1,539.9 440,541 438.6,541Z" fill="#fff" stroke="#111" stroke-width="1.1"/>
<path d="M399.4,506.6 L477.8,506.6 Q479.2,506.6 479.2,508 L479.2,516.6 Q479.2,518 477.8,518 L399.4,518 Q398,518 398,516.6 L398,508 Q398,506.6 399.4,506.6Z" fill="#fff" stroke="#111" stroke-width="1.3"/>
<path d="M421.6,678 L454.4,678 L454.4,681 C458,698 478,708 492.8,712 L492.8,751.6 C478,756 456,768 452,787.6 L425.6,787.6 C421,768 398,756 383.7,751.6 L383.7,712 C398,708 418,698 421.6,681Z" fill="#fff" stroke="none" stroke-width="0"/>
<path d="M422,678.6 L454.4,678.6 L454.4,680 L422,680Z" fill="#fff" stroke="#111" stroke-width="1.1"/>
<path d="M422,679.6C421.7,680.2 421,682 420.2,683.2C419.5,684.4 418.4,685.6 417.3,686.8C416.3,688 415,689.2 413.8,690.4C412.5,691.6 411.1,692.8 409.7,694C408.3,695.2 406.7,696.4 405.2,697.6C403.6,698.8 402,700 400.3,701.2C398.6,702.4 396.9,703.6 395.1,704.8C393.3,706 391.4,707.2 389.5,708.4C387.6,709.6 384.7,711.4 383.7,712" fill="none" stroke="#111" stroke-width="1.4"/>
<path d="M424.5,680.2C424.2,680.8 423.5,682.5 422.8,683.7C422.1,684.8 421.2,685.9 420.2,687.1C419.2,688.2 418.1,689.4 417,690.5C415.8,691.6 414.6,692.8 413.3,693.9C412,695.1 410.6,696.2 409.2,697.3C407.7,698.5 406.2,699.6 404.6,700.8C403.1,701.9 401.5,703 399.8,704.2C398.1,705.3 396.4,706.5 394.6,707.6C392.8,708.7 390,710.5 389.1,711" fill="none" stroke="#111" stroke-width="0.9"/>
<path d="M427.4,680.2C427.2,680.8 426.8,682.6 426.2,683.7C425.7,684.9 424.9,686 424.1,687.2C423.4,688.3 422.4,689.5 421.4,690.6C420.5,691.8 419.4,692.9 418.2,694.1C417.1,695.2 415.8,696.4 414.5,697.5C413.2,698.7 411.8,699.8 410.4,701C408.9,702.1 407.4,703.3 405.8,704.4C404.2,705.6 402.6,706.7 400.9,707.9C399.2,709 396.5,710.8 395.6,711.4" fill="none" stroke="#111" stroke-width="1"/>
<path d="M429.7,680.2C429.6,680.8 429.2,682.6 428.7,683.7C428.2,684.9 427.6,686 426.9,687.2C426.2,688.3 425.3,689.5 424.4,690.6C423.5,691.8 422.5,692.9 421.5,694.1C420.4,695.2 419.2,696.4 418,697.5C416.8,698.7 415.5,699.8 414.1,701C412.7,702.1 411.3,703.3 409.8,704.4C408.3,705.6 406.7,706.7 405,707.9C403.4,709 400.8,710.8 400,711.4" fill="none" stroke="#111" stroke-width="1"/>
<path d="M432,680.2C432,680.8 431.8,682.6 431.7,683.7C431.5,684.9 431.2,686 430.9,687.2C430.5,688.3 430.1,689.5 429.7,690.6C429.2,691.8 428.7,692.9 428.2,694.1C427.6,695.2 427,696.4 426.3,697.5C425.7,698.7 425,699.8 424.2,701C423.4,702.1 422.6,703.3 421.7,704.4C420.9,705.6 419.9,706.7 419,707.9C418,709 416.4,710.8 415.9,711.4" fill="none" stroke="#111" stroke-width="1"/>
<path d="M434,680.2C434,680.6 433.9,681.7 433.9,682.4C433.8,683.1 433.7,683.8 433.6,684.6C433.5,685.3 433.4,686 433.3,686.7C433.1,687.4 433,688.2 432.8,688.9C432.6,689.6 432.4,690.3 432.2,691C432,691.8 431.7,692.5 431.5,693.2C431.2,693.9 430.9,694.6 430.6,695.4C430.3,696.1 430,696.8 429.7,697.5C429.3,698.2 428.8,699.3 428.6,699.7" fill="none" stroke="#111" stroke-width="1"/>
<path d="M411.5,707.3C411.2,707.4 410.2,707.8 409.5,707.8C408.8,707.8 408.1,707.7 407.5,707.5C407,707.3 406.4,707 406,706.7C405.6,706.4 405.4,705.9 405.2,705.5C405.1,705.1 405.1,704.6 405.2,704.3C405.4,703.9 405.6,703.5 406,703.2C406.3,702.9 406.7,702.7 407.2,702.6C407.6,702.4 408.1,702.4 408.6,702.4C409,702.4 409.4,702.6 409.8,702.7C410.1,702.9 410.4,703.1 410.6,703.3C410.8,703.6 410.9,703.9 410.9,704.1C411,704.4 410.9,704.6 410.8,704.9C410.6,705.1 410.4,705.2 410.2,705.4C410,705.5 409.7,705.6 409.5,705.6C409.2,705.6 408.9,705.6 408.7,705.6C408.5,705.5 408.4,705.4 408.2,705.3C408.1,705.2 408.1,705 408,705" fill="none" stroke="#111" stroke-width="1.5"/>
<path d="M411.5,707.3C410,707.6 404.7,708.1 402.2,708.8C399.8,709.4 397.7,710.8 396.8,711.2" fill="none" stroke="#111" stroke-width="1"/>
<path d="M418.6,711.2C417.9,710.7 416,708.5 414.8,708.1C413.5,707.7 411.5,708.3 410.9,708.8C410.4,709.2 411.4,710.5 411.5,710.9" fill="none" stroke="#111" stroke-width="1"/>
<path d="M429.7,702.6C429.7,702.7 429.7,702.9 429.6,703.1C429.5,703.3 429.3,703.5 429.1,703.6C428.9,703.7 428.7,703.8 428.4,703.9C428.1,703.9 427.8,703.9 427.5,703.8C427.2,703.6 426.9,703.4 426.7,703.2C426.5,703 426.3,702.6 426.2,702.3C426.1,701.9 426.1,701.5 426.3,701.2C426.4,700.8 426.6,700.4 426.9,700.1C427.3,699.8 427.7,699.6 428.2,699.4C428.6,699.3 429.2,699.2 429.7,699.3C430.2,699.4 430.8,699.6 431.2,699.9C431.7,700.2 432.1,700.7 432.3,701.2C432.6,701.7 432.8,702.3 432.7,702.9C432.7,703.4 432.5,704.1 432.2,704.6C431.8,705.1 431.3,705.6 430.7,706C430.2,706.3 429,706.5 428.7,706.7" fill="none" stroke="#111" stroke-width="1.4"/>
<path d="M428.7,706.7C427.8,706.6 424.6,705.7 423.5,706.5C422.3,707.2 422.1,710.4 421.8,711.2" fill="none" stroke="#111" stroke-width="1"/>
<path d="M433.6,699C432.9,698.5 430.9,696 429.5,695.8C428,695.6 425.8,696.7 424.8,697.7C423.8,698.8 423.7,701.5 423.5,702.3" fill="none" stroke="#111" stroke-width="1"/>
<path d="M434.4,711.2C433.9,710.7 432.8,708.7 431.7,708.3C430.6,707.9 428.7,708.3 427.8,708.8C427,709.2 426.7,710.8 426.5,711.2" fill="none" stroke="#111" stroke-width="1"/>
<path d="M454.4,679.6C454.7,680.2 455.4,682 456.2,683.2C456.9,684.4 458,685.6 459.1,686.8C460.1,688 461.4,689.2 462.6,690.4C463.9,691.6 465.3,692.8 466.7,694C468.1,695.2 469.7,696.4 471.2,697.6C472.8,698.8 474.4,700 476.1,701.2C477.8,702.4 479.5,703.6 481.3,704.8C483.1,706 485,707.2 486.9,708.4C488.8,709.6 491.7,711.4 492.7,712" fill="none" stroke="#111" stroke-width="1.4"/>
<path d="M451.9,680.2C452.2,680.8 452.9,682.5 453.6,683.7C454.3,684.8 455.2,685.9 456.2,687.1C457.2,688.2 458.3,689.4 459.4,690.5C460.6,691.6 461.8,692.8 463.1,693.9C464.4,695.1 465.8,696.2 467.2,697.3C468.7,698.5 470.2,699.6 471.8,700.8C473.3,701.9 474.9,703 476.6,704.2C478.3,705.3 480,706.5 481.8,707.6C483.6,708.7 486.4,710.5 487.3,711" fill="none" stroke="#111" stroke-width="0.9"/>
<path d="M449,680.2C449.2,680.8 449.6,682.6 450.2,683.7C450.7,684.9 451.5,686 452.3,687.2C453,688.3 454,689.5 455,690.6C455.9,691.8 457,692.9 458.2,694.1C459.3,695.2 460.6,696.4 461.9,697.5C463.2,698.7 464.6,699.8 466,701C467.5,702.1 469,703.3 470.6,704.4C472.2,705.6 473.8,706.7 475.5,707.9C477.2,709 479.9,710.8 480.8,711.4" fill="none" stroke="#111" stroke-width="1"/>
<path d="M446.7,680.2C446.8,680.8 447.2,682.6 447.7,683.7C448.2,684.9 448.8,686 449.5,687.2C450.2,688.3 451.1,689.5 452,690.6C452.9,691.8 453.9,692.9 454.9,694.1C456,695.2 457.2,696.4 458.4,697.5C459.6,698.7 460.9,699.8 462.3,701C463.7,702.1 465.1,703.3 466.6,704.4C468.1,705.6 469.7,706.7 471.4,707.9C473,709 475.6,710.8 476.4,711.4" fill="none" stroke="#111" stroke-width="1"/>
<path d="M444.4,680.2C444.4,680.8 444.6,682.6 444.7,683.7C444.9,684.9 445.2,686 445.5,687.2C445.9,688.3 446.3,689.5 446.7,690.6C447.2,691.8 447.7,692.9 448.2,694.1C448.8,695.2 449.4,696.4 450.1,697.5C450.7,698.7 451.4,699.8 452.2,701C453,702.1 453.8,703.3 454.7,704.4C455.5,705.6 456.5,706.7 457.4,707.9C458.4,709 460,710.8 460.5,711.4" fill="none" stroke="#111" stroke-width="1"/>
<path d="M442.4,680.2C442.4,680.6 442.5,681.7 442.5,682.4C442.6,683.1 442.7,683.8 442.8,684.6C442.9,685.3 443,686 443.1,686.7C443.3,687.4 443.4,688.2 443.6,688.9C443.8,689.6 444,690.3 444.2,691C444.4,691.8 444.7,692.5 444.9,693.2C445.2,693.9 445.5,694.6 445.8,695.4C446.1,696.1 446.4,696.8 446.7,697.5C447.1,698.2 447.6,699.3 447.8,699.7" fill="none" stroke="#111" stroke-width="1"/>
<path d="M464.9,707.3C465.2,707.4 466.2,707.8 466.9,707.8C467.6,707.8 468.3,707.7 468.9,707.5C469.4,707.3 470,707 470.4,706.7C470.8,706.4 471,705.9 471.2,705.5C471.3,705.1 471.3,704.6 471.2,704.3C471,703.9 470.8,703.5 470.4,703.2C470.1,702.9 469.7,702.7 469.2,702.6C468.8,702.4 468.3,702.4 467.8,702.4C467.4,702.4 467,702.6 466.6,702.7C466.3,702.9 466,703.1 465.8,703.3C465.6,703.6 465.5,703.9 465.5,704.1C465.4,704.4 465.5,704.6 465.6,704.9C465.8,705.1 466,705.2 466.2,705.4C466.4,705.5 466.7,705.6 466.9,705.6C467.2,705.6 467.5,705.6 467.7,705.6C467.9,705.5 468,705.4 468.2,705.3C468.3,705.2 468.3,705 468.4,705" fill="none" stroke="#111" stroke-width="1.5"/>
<path d="M464.9,707.3C466.4,707.6 471.7,708.1 474.2,708.8C476.6,709.4 478.7,710.8 479.6,711.2" fill="none" stroke="#111" stroke-width="1"/>
<path d="M457.8,711.2C458.5,710.7 460.4,708.5 461.6,708.1C462.9,707.7 464.9,708.3 465.4,708.8C466,709.2 465,710.5 464.9,710.9" fill="none" stroke="#111" stroke-width="1"/>
<path d="M446.7,702.6C446.7,702.7 446.7,702.9 446.8,703.1C446.9,703.3 447.1,703.5 447.3,703.6C447.5,703.7 447.7,703.8 448,703.9C448.3,703.9 448.6,703.9 448.9,703.8C449.2,703.6 449.5,703.4 449.7,703.2C449.9,703 450.1,702.6 450.2,702.3C450.3,701.9 450.3,701.5 450.1,701.2C450,700.8 449.8,700.4 449.5,700.1C449.1,699.8 448.7,699.6 448.2,699.4C447.8,699.3 447.2,699.2 446.7,699.3C446.2,699.4 445.6,699.6 445.2,699.9C444.7,700.2 444.3,700.7 444.1,701.2C443.8,701.7 443.6,702.3 443.7,702.9C443.7,703.4 443.9,704.1 444.2,704.6C444.6,705.1 445.1,705.6 445.7,706C446.2,706.3 447.4,706.5 447.7,706.7" fill="none" stroke="#111" stroke-width="1.4"/>
<path d="M447.7,706.7C448.6,706.6 451.8,705.7 452.9,706.5C454.1,707.2 454.3,710.4 454.6,711.2" fill="none" stroke="#111" stroke-width="1"/>
<path d="M442.8,699C443.5,698.5 445.5,696 446.9,695.8C448.4,695.6 450.6,696.7 451.6,697.7C452.6,698.8 452.7,701.5 452.9,702.3" fill="none" stroke="#111" stroke-width="1"/>
<path d="M442,711.2C442.5,710.7 443.6,708.7 444.7,708.3C445.8,707.9 447.7,708.3 448.6,708.8C449.4,709.2 449.7,710.8 449.9,711.2" fill="none" stroke="#111" stroke-width="1"/>
<path d="M438.2,682.8 C436.8,682.8 436.7,684.1 436.7,685.4 L436.6,695.8 C436.4,699.7 434.3,702.3 434.3,706.2 C434.3,708.8 435.8,710.5 438.2,710.5 C440.6,710.5 442.1,708.8 442.1,706.2 C442.1,702.3 440,699.7 439.8,695.8 L439.7,685.4 C439.7,684.1 439.6,682.8 438.2,682.8Z" fill="#fff" stroke="#111" stroke-width="1.1"/>
<path d="M425.2,787.6C424.9,786.9 424.3,784.9 423.5,783.6C422.7,782.3 421.6,780.9 420.5,779.6C419.4,778.3 418.1,776.9 416.8,775.6C415.4,774.3 413.9,772.9 412.4,771.6C410.9,770.3 409.2,768.9 407.5,767.6C405.8,766.3 404,764.9 402.1,763.6C400.3,762.3 398.4,760.9 396.4,759.6C394.4,758.3 392.3,756.9 390.2,755.6C388.1,754.3 384.8,752.3 383.7,751.6" fill="none" stroke="#111" stroke-width="1.4"/>
<path d="M427.2,786.9C426.9,786.2 426.2,784.3 425.5,783.1C424.8,781.8 423.9,780.5 422.9,779.3C421.9,778 420.8,776.7 419.6,775.5C418.4,774.2 417.1,772.9 415.7,771.7C414.3,770.4 412.8,769.1 411.2,767.9C409.7,766.6 408,765.3 406.4,764.1C404.7,762.8 402.9,761.5 401,760.3C399.2,759 397.3,757.7 395.4,756.5C393.4,755.2 390.3,753.3 389.3,752.7" fill="none" stroke="#111" stroke-width="0.9"/>
<path d="M429.6,786.9C429.4,786.2 428.9,784.3 428.4,783C427.9,781.8 427.1,780.5 426.3,779.2C425.5,777.9 424.6,776.6 423.5,775.4C422.5,774.1 421.4,772.8 420.2,771.5C418.9,770.2 417.6,769 416.2,767.7C414.8,766.4 413.3,765.1 411.8,763.8C410.2,762.6 408.6,761.3 406.9,760C405.2,758.7 403.4,757.4 401.5,756.2C399.7,754.9 396.7,753 395.7,752.3" fill="none" stroke="#111" stroke-width="1"/>
<path d="M431.4,786.9C431.2,786.2 430.9,784.3 430.4,783C430,781.8 429.3,780.5 428.6,779.2C427.9,777.9 427.1,776.6 426.1,775.4C425.2,774.1 424.2,772.8 423.1,771.5C421.9,770.2 420.7,769 419.4,767.7C418.1,766.4 416.8,765.1 415.3,763.8C413.8,762.6 412.3,761.3 410.7,760C409,758.7 407.3,757.4 405.6,756.2C403.8,754.9 401,753 400,752.3" fill="none" stroke="#111" stroke-width="1"/>
<path d="M433.2,786.9C433.2,786.2 433.1,784.3 432.9,783C432.7,781.8 432.4,780.5 432.1,779.2C431.8,777.9 431.4,776.6 430.9,775.4C430.4,774.1 429.9,772.8 429.3,771.5C428.7,770.2 428.1,769 427.4,767.7C426.7,766.4 425.9,765.1 425.1,763.8C424.2,762.6 423.3,761.3 422.4,760C421.4,758.7 420.4,757.4 419.4,756.2C418.3,754.9 416.5,753 416,752.3" fill="none" stroke="#111" stroke-width="1"/>
<path d="M434.8,786.9C434.8,786.5 434.8,785.3 434.7,784.5C434.7,783.7 434.6,782.9 434.5,782.1C434.4,781.3 434.3,780.5 434.1,779.7C434,778.9 433.8,778.1 433.7,777.3C433.5,776.5 433.3,775.7 433.1,774.9C432.8,774.1 432.6,773.3 432.3,772.5C432,771.7 431.7,770.9 431.4,770.1C431.1,769.3 430.8,768.5 430.4,767.7C430.1,766.9 429.5,765.7 429.3,765.3" fill="none" stroke="#111" stroke-width="1"/>
<path d="M405.7,756.8C405.5,757 404.7,757.7 404.4,758.2C404.1,758.7 404,759.3 404.1,759.8C404.2,760.3 404.4,760.9 404.8,761.3C405.1,761.7 405.6,762.1 406.2,762.3C406.7,762.6 407.4,762.7 408,762.7C408.6,762.8 409.2,762.7 409.7,762.5C410.2,762.4 410.7,762.1 411.1,761.8C411.4,761.5 411.6,761.1 411.8,760.8C411.9,760.4 411.8,760 411.7,759.7C411.6,759.4 411.4,759.1 411.1,758.8C410.9,758.6 410.5,758.4 410.1,758.3C409.8,758.2 409.4,758.2 409,758.2C408.7,758.3 408.3,758.4 408.1,758.5C407.8,758.6 407.6,758.8 407.5,759C407.4,759.2 407.3,759.4 407.3,759.6C407.3,759.7 407.4,759.9 407.5,760C407.6,760.2 407.9,760.3 407.9,760.3" fill="none" stroke="#111" stroke-width="1.5"/>
<path d="M405.7,756.8C405.2,756.5 403.7,755.9 402.2,755.2C400.7,754.5 397.7,753 396.8,752.5" fill="none" stroke="#111" stroke-width="1"/>
<path d="M418.6,752.5C417.9,753.1 416,755.5 414.8,755.9C413.5,756.4 411.5,755.7 410.9,755.2C410.4,754.7 411.4,753.2 411.5,752.9" fill="none" stroke="#111" stroke-width="1"/>
<path d="M429.8,762.7C429.8,762.6 430.1,762.4 430.1,762.2C430.1,762 430.1,761.7 430,761.5C430,761.3 429.8,761 429.6,760.8C429.3,760.6 429,760.4 428.7,760.4C428.3,760.3 427.9,760.3 427.5,760.4C427.2,760.5 426.7,760.7 426.4,760.9C426.1,761.2 425.8,761.6 425.7,762C425.5,762.4 425.5,762.9 425.6,763.3C425.6,763.8 425.8,764.3 426.2,764.7C426.5,765.1 427,765.4 427.5,765.7C428,765.9 428.7,766.1 429.3,766C429.9,766 430.6,765.9 431.2,765.6C431.8,765.3 432.3,764.8 432.7,764.3C433.1,763.8 433.4,763.1 433.5,762.4C433.6,761.7 433.5,761 433.2,760.3C432.9,759.6 432,758.8 431.8,758.5" fill="none" stroke="#111" stroke-width="1.4"/>
<path d="M431.8,758.5C430.4,758.3 425.1,758.7 423.5,757.7C421.8,756.7 422.1,753.4 421.8,752.5" fill="none" stroke="#111" stroke-width="1"/>
<path d="M433.6,766C432.9,766.6 430.9,769.4 429.5,769.6C428,769.8 425.8,768.6 424.8,767.4C423.8,766.2 423.7,763.2 423.5,762.4" fill="none" stroke="#111" stroke-width="1"/>
<path d="M434.4,752.5C433.9,753 432.8,755.3 431.7,755.7C430.6,756.2 428.7,755.7 427.8,755.2C427,754.7 426.7,753 426.5,752.5" fill="none" stroke="#111" stroke-width="1"/>
<path d="M451.2,787.6C451.5,786.9 452.1,784.9 452.9,783.6C453.7,782.3 454.8,780.9 455.9,779.6C457,778.3 458.3,776.9 459.6,775.6C461,774.3 462.5,772.9 464,771.6C465.5,770.3 467.2,768.9 468.9,767.6C470.6,766.3 472.4,764.9 474.3,763.6C476.1,762.3 478,760.9 480,759.6C482,758.3 484.1,756.9 486.2,755.6C488.3,754.3 491.6,752.3 492.7,751.6" fill="none" stroke="#111" stroke-width="1.4"/>
<path d="M449.2,786.9C449.5,786.2 450.2,784.3 450.9,783.1C451.6,781.8 452.5,780.5 453.5,779.3C454.5,778 455.6,776.7 456.8,775.5C458,774.2 459.3,772.9 460.7,771.7C462.1,770.4 463.6,769.1 465.2,767.9C466.7,766.6 468.4,765.3 470,764.1C471.7,762.8 473.5,761.5 475.4,760.3C477.2,759 479.1,757.7 481,756.5C483,755.2 486.1,753.3 487.1,752.7" fill="none" stroke="#111" stroke-width="0.9"/>
<path d="M446.8,786.9C447,786.2 447.5,784.3 448,783C448.5,781.8 449.3,780.5 450.1,779.2C450.9,777.9 451.8,776.6 452.9,775.4C453.9,774.1 455,772.8 456.2,771.5C457.5,770.2 458.8,769 460.2,767.7C461.6,766.4 463.1,765.1 464.6,763.8C466.2,762.6 467.8,761.3 469.5,760C471.2,758.7 473,757.4 474.9,756.2C476.7,754.9 479.7,753 480.7,752.3" fill="none" stroke="#111" stroke-width="1"/>
<path d="M445,786.9C445.2,786.2 445.5,784.3 446,783C446.4,781.8 447.1,780.5 447.8,779.2C448.5,777.9 449.3,776.6 450.3,775.4C451.2,774.1 452.2,772.8 453.3,771.5C454.5,770.2 455.7,769 457,767.7C458.3,766.4 459.6,765.1 461.1,763.8C462.6,762.6 464.1,761.3 465.7,760C467.4,758.7 469.1,757.4 470.8,756.2C472.6,754.9 475.4,753 476.4,752.3" fill="none" stroke="#111" stroke-width="1"/>
<path d="M443.2,786.9C443.2,786.2 443.3,784.3 443.5,783C443.7,781.8 444,780.5 444.3,779.2C444.6,777.9 445,776.6 445.5,775.4C446,774.1 446.5,772.8 447.1,771.5C447.7,770.2 448.3,769 449,767.7C449.7,766.4 450.5,765.1 451.3,763.8C452.2,762.6 453.1,761.3 454,760C455,758.7 456,757.4 457,756.2C458.1,754.9 459.9,753 460.4,752.3" fill="none" stroke="#111" stroke-width="1"/>
<path d="M441.6,786.9C441.6,786.5 441.6,785.3 441.7,784.5C441.7,783.7 441.8,782.9 441.9,782.1C442,781.3 442.1,780.5 442.3,779.7C442.4,778.9 442.6,778.1 442.7,777.3C442.9,776.5 443.1,775.7 443.3,774.9C443.6,774.1 443.8,773.3 444.1,772.5C444.4,771.7 444.7,770.9 445,770.1C445.3,769.3 445.6,768.5 446,767.7C446.3,766.9 446.9,765.7 447.1,765.3" fill="none" stroke="#111" stroke-width="1"/>
<path d="M470.7,756.8C470.9,757 471.7,757.7 472,758.2C472.3,758.7 472.4,759.3 472.3,759.8C472.2,760.3 472,760.9 471.6,761.3C471.3,761.7 470.8,762.1 470.2,762.3C469.7,762.6 469,762.7 468.4,762.7C467.8,762.8 467.2,762.7 466.7,762.5C466.2,762.4 465.7,762.1 465.3,761.8C465,761.5 464.8,761.1 464.6,760.8C464.5,760.4 464.6,760 464.7,759.7C464.8,759.4 465,759.1 465.3,758.8C465.5,758.6 465.9,758.4 466.3,758.3C466.6,758.2 467,758.2 467.4,758.2C467.7,758.3 468.1,758.4 468.3,758.5C468.6,758.6 468.8,758.8 468.9,759C469,759.2 469.1,759.4 469.1,759.6C469.1,759.7 469,759.9 468.9,760C468.8,760.2 468.5,760.3 468.5,760.3" fill="none" stroke="#111" stroke-width="1.5"/>
<path d="M470.7,756.8C471.2,756.5 472.7,755.9 474.2,755.2C475.7,754.5 478.7,753 479.6,752.5" fill="none" stroke="#111" stroke-width="1"/>
<path d="M457.8,752.5C458.5,753.1 460.4,755.5 461.6,755.9C462.9,756.4 464.9,755.7 465.4,755.2C466,754.7 465,753.2 464.9,752.9" fill="none" stroke="#111" stroke-width="1"/>
<path d="M446.6,762.7C446.6,762.6 446.3,762.4 446.3,762.2C446.3,762 446.3,761.7 446.4,761.5C446.4,761.3 446.6,761 446.8,760.8C447.1,760.6 447.4,760.4 447.7,760.4C448.1,760.3 448.5,760.3 448.9,760.4C449.2,760.5 449.7,760.7 450,760.9C450.3,761.2 450.6,761.6 450.7,762C450.9,762.4 450.9,762.9 450.8,763.3C450.8,763.8 450.6,764.3 450.2,764.7C449.9,765.1 449.4,765.4 448.9,765.7C448.4,765.9 447.7,766.1 447.1,766C446.5,766 445.8,765.9 445.2,765.6C444.6,765.3 444.1,764.8 443.7,764.3C443.3,763.8 443,763.1 442.9,762.4C442.8,761.7 442.9,761 443.2,760.3C443.5,759.6 444.4,758.8 444.6,758.5" fill="none" stroke="#111" stroke-width="1.4"/>
<path d="M444.6,758.5C446,758.3 451.3,758.7 452.9,757.7C454.6,756.7 454.3,753.4 454.6,752.5" fill="none" stroke="#111" stroke-width="1"/>
<path d="M442.8,766C443.5,766.6 445.5,769.4 446.9,769.6C448.4,769.8 450.6,768.6 451.6,767.4C452.6,766.2 452.7,763.2 452.9,762.4" fill="none" stroke="#111" stroke-width="1"/>
<path d="M442,752.5C442.5,753 443.6,755.3 444.7,755.7C445.8,756.2 447.7,755.7 448.6,755.2C449.4,754.7 449.7,753 449.9,752.5" fill="none" stroke="#111" stroke-width="1"/>
<path d="M438.2,784 C436.8,784 436.7,782.6 436.7,781.1 L436.6,769.6 C436.4,765.3 434.3,762.4 434.3,758.1 C434.3,755.2 435.8,753.2 438.2,753.2 C440.6,753.2 442.1,755.2 442.1,758.1 C442.1,762.4 440,765.3 439.8,769.6 L439.7,781.1 C439.7,782.6 439.6,784 438.2,784Z" fill="#fff" stroke="#111" stroke-width="1.1"/>
<path d="M383.7,712 L492.8,712 L492.8,751.6 L383.7,751.6Z" fill="#fff" stroke="#111" stroke-width="1.3"/>
<path d="M385.6,717.7 L491.2,717.7 M385.6,748.4 L491.2,748.4" fill="none" stroke="#111" stroke-width="1"/>
<path d="M385.6,712 L385.6,751.6 M491.2,712 L491.2,751.6" fill="none" stroke="#111" stroke-width="0.9"/>
<line x1="425.6" y1="787.6" x2="452" y2="787.6" stroke="#111" stroke-width="1.3"/>
<path d="M429.6,787.6 L429.6,793 L447.6,793 L447.6,787.6" fill="#fff" stroke="#111" stroke-width="1.2"/>
<path d="M429.6,790.2 L447.6,790.2 M429.6,791.4 L447.6,791.4" fill="none" stroke="#333" stroke-width="0.9"/>
<path d="M430.4,793.2 L446.4,793.2 C451.6,795 451.6,806.4 446,808.6 L431,808.6 C425.2,806.4 425.2,795 430.4,793.2Z" fill="#fff" stroke="#111" stroke-width="1.3"/>
<path d="M434,808.8 L434,814.6 C434,820 442.8,820 442.8,814.6 L442.8,808.8" fill="#fff" stroke="#111" stroke-width="1.2"/>
<circle cx="438.3" cy="815" r="1.5" fill="#111"/>
<path d="M194.8,136L189.2,141.6L181.2,141.6L175.6,136L175.6,128L181.2,122.4L189.2,122.4L194.8,128Z" fill="#fff" stroke="#222" stroke-width="0.8"/>
<path d="M194.8,136 L175.6,128 M189.2,141.6 L181.2,122.4 M181.2,141.6 L189.2,122.4 M175.6,136 L194.8,128 " fill="none" stroke="#444" stroke-width="0.6"/>
<circle cx="185.2" cy="132" r="0.9" fill="#111"/>
<path d="M194.8,161.3L189.2,166.9L181.2,166.9L175.6,161.3L175.6,153.3L181.2,147.7L189.2,147.7L194.8,153.3Z" fill="#fff" stroke="#222" stroke-width="0.8"/>
<path d="M194.8,161.3 L175.6,153.3 M189.2,166.9 L181.2,147.7 M181.2,166.9 L189.2,147.7 M175.6,161.3 L194.8,153.3 " fill="none" stroke="#444" stroke-width="0.6"/>
<circle cx="185.2" cy="157.3" r="0.9" fill="#111"/>
<path d="M194.8,186.9L189.2,192.5L181.2,192.5L175.6,186.9L175.6,178.9L181.2,173.3L189.2,173.3L194.8,178.9Z" fill="#fff" stroke="#222" stroke-width="0.8"/>
<path d="M194.8,186.9 L175.6,178.9 M189.2,192.5 L181.2,173.3 M181.2,192.5 L189.2,173.3 M175.6,186.9 L194.8,178.9 " fill="none" stroke="#444" stroke-width="0.6"/>
<circle cx="185.2" cy="182.9" r="0.9" fill="#111"/>
<path d="M185.2,201.6 C187.2,207.2 198.3,224.1 198.8,233.4 C198.8,242.8 192.7,248.4 185.2,248.4 C177.7,248.4 171.6,242.8 171.6,233.4 C172.1,224.1 183.2,207.2 185.2,201.6Z" fill="#fff" stroke="#222" stroke-width="0.9"/>
<path d="M185.2,227.8 L185.2,202.6 M185.2,227.8 L192,214.2 M185.2,227.8 L197.8,225.9 M185.2,227.8 L198.4,239 M185.2,227.8 L191.3,247.6 M185.2,227.8 L179.1,247.6 M185.2,227.8 L172,239 M185.2,227.8 L172.6,225.9 M185.2,227.8 L178.4,214.2 " fill="none" stroke="#333" stroke-width="0.7"/>
<circle cx="185.2" cy="227.8" r="0.9" fill="#111"/>
<path d="M182.6,123.8 L182.6,115 A2.6,3.9 0 0 1 187.8,115 L187.8,123.8 A2.6,3.9 0 0 1 182.6,123.8Z" fill="none" stroke="#222" stroke-width="0.9"/>
<path d="M182.6,149.1 L182.6,140.2 A2.6,3.9 0 0 1 187.8,140.2 L187.8,149.1 A2.6,3.9 0 0 1 182.6,149.1Z" fill="none" stroke="#222" stroke-width="0.9"/>
<path d="M182.6,174.7 L182.6,165.5 A2.6,3.9 0 0 1 187.8,165.5 L187.8,174.7 A2.6,3.9 0 0 1 182.6,174.7Z" fill="none" stroke="#222" stroke-width="0.9"/>
<path d="M182.6,200.2 L182.6,191.1 A2.6,3.9 0 0 1 187.8,191.1 L187.8,200.2 A2.6,3.9 0 0 1 182.6,200.2Z" fill="none" stroke="#222" stroke-width="0.9"/>
<circle cx="185.2" cy="203.4" r="1.3" fill="#fff" stroke="#222" stroke-width="0.9"/>
<path d="M448.2,837.6L442.4,843.4L434.2,843.4L428.4,837.6L428.4,829.4L434.2,823.6L442.4,823.6L448.2,829.4Z" fill="#fff" stroke="#222" stroke-width="0.8"/>
<path d="M448.2,837.6 L428.4,829.4 M442.4,843.4 L434.2,823.6 M434.2,843.4 L442.4,823.6 M428.4,837.6 L448.2,829.4 " fill="none" stroke="#444" stroke-width="0.6"/>
<circle cx="438.3" cy="833.5" r="0.9" fill="#111"/>
<path d="M448.2,864.2L442.4,870L434.2,870L428.4,864.2L428.4,856L434.2,850.2L442.4,850.2L448.2,856Z" fill="#fff" stroke="#222" stroke-width="0.8"/>
<path d="M448.2,864.2 L428.4,856 M442.4,870 L434.2,850.2 M434.2,870 L442.4,850.2 M428.4,864.2 L448.2,856 " fill="none" stroke="#444" stroke-width="0.6"/>
<circle cx="438.3" cy="860.1" r="0.9" fill="#111"/>
<path d="M448.2,890.3L442.4,896.1L434.2,896.1L428.4,890.3L428.4,882.1L434.2,876.3L442.4,876.3L448.2,882.1Z" fill="#fff" stroke="#222" stroke-width="0.8"/>
<path d="M448.2,890.3 L428.4,882.1 M442.4,896.1 L434.2,876.3 M434.2,896.1 L442.4,876.3 M428.4,890.3 L448.2,882.1 " fill="none" stroke="#444" stroke-width="0.6"/>
<circle cx="438.3" cy="886.2" r="0.9" fill="#111"/>
<path d="M438.3,902.4 C440.5,908.3 452.3,926.2 452.9,936.1 C452.9,946 446.3,951.9 438.3,951.9 C430.3,951.9 423.7,946 423.7,936.1 C424.3,926.2 436.1,908.3 438.3,902.4Z" fill="#fff" stroke="#222" stroke-width="0.9"/>
<path d="M438.3,930.1 L438.3,903.4 M438.3,930.1 L445.6,915.8 M438.3,930.1 L451.9,928.1 M438.3,930.1 L452.5,942 M438.3,930.1 L444.9,951.1 M438.3,930.1 L431.7,951.1 M438.3,930.1 L424.1,942 M438.3,930.1 L424.7,928.1 M438.3,930.1 L431,915.8 " fill="none" stroke="#333" stroke-width="0.7"/>
<circle cx="438.3" cy="930.1" r="0.9" fill="#111"/>
<path d="M435.7,825 L435.7,820.2 A2.6,3.9 0 0 1 440.9,820.2 L440.9,825 A2.6,3.9 0 0 1 435.7,825Z" fill="none" stroke="#222" stroke-width="0.9"/>
<path d="M435.7,851.6 L435.7,842 A2.6,3.9 0 0 1 440.9,842 L440.9,851.6 A2.6,3.9 0 0 1 435.7,851.6Z" fill="none" stroke="#222" stroke-width="0.9"/>
<path d="M435.7,877.7 L435.7,868.6 A2.6,3.9 0 0 1 440.9,868.6 L440.9,877.7 A2.6,3.9 0 0 1 435.7,877.7Z" fill="none" stroke="#222" stroke-width="0.9"/>
<path d="M435.7,901 L435.7,894.7 A2.6,3.9 0 0 1 440.9,894.7 L440.9,901 A2.6,3.9 0 0 1 435.7,901Z" fill="none" stroke="#222" stroke-width="0.9"/>
<circle cx="438.3" cy="904.2" r="1.3" fill="#fff" stroke="#222" stroke-width="0.9"/>
</svg>
</body></html>
